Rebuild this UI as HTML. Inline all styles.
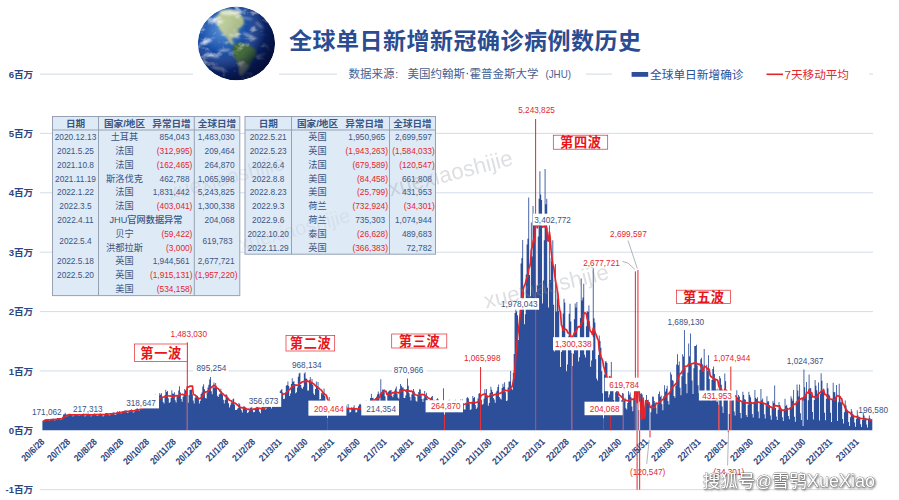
<!DOCTYPE html>
<html><head><meta charset="utf-8"><title>chart</title>
<style>html,body{margin:0;padding:0;background:#fff}svg{display:block}</style></head>
<body><svg width="899" height="500" viewBox="0 0 899 500" font-family="Liberation Sans, sans-serif">
<defs>
<radialGradient id="gl" cx="0.36" cy="0.34" r="0.75"><stop offset="0" stop-color="#3a80d2"/><stop offset="0.35" stop-color="#1a55b2"/><stop offset="0.7" stop-color="#0e3086"/><stop offset="1" stop-color="#06164e"/></radialGradient>
<radialGradient id="gs" cx="0.30" cy="0.30" r="0.82"><stop offset="0" stop-color="#fff" stop-opacity="0.18"/><stop offset="0.4" stop-color="#fff" stop-opacity="0"/><stop offset="0.7" stop-color="#02103c" stop-opacity="0.35"/><stop offset="1" stop-color="#02103c" stop-opacity="0.8"/></radialGradient>
<linearGradient id="gd" x1="0.35" y1="0.2" x2="1" y2="0.75"><stop offset="0" stop-color="#030a30" stop-opacity="0"/><stop offset="0.55" stop-color="#030a30" stop-opacity="0.18"/><stop offset="1" stop-color="#030a30" stop-opacity="0.62"/></linearGradient>
<clipPath id="gc"><ellipse cx="236.4" cy="43.4" rx="38.6" ry="36.8"/></clipPath>
<filter id="bl" x="-20%" y="-20%" width="140%" height="140%"><feGaussianBlur stdDeviation="1.1"/></filter>
<filter id="bl2" x="-30%" y="-30%" width="160%" height="160%"><feGaussianBlur stdDeviation="1.0"/></filter>
<filter id="cl" x="0" y="0" width="100%" height="100%"><feTurbulence type="fractalNoise" baseFrequency="0.09 0.12" numOctaves="4" seed="11"/><feColorMatrix type="matrix" values="0 0 0 0 1  0 0 0 0 1  0 0 0 0 1  2.2 0 0 0 -1.2"/></filter>
<filter id="ws" x="-5%" y="-20%" width="110%" height="150%"><feDropShadow dx="1" dy="1" stdDeviation="0.8" flood-color="#000" flood-opacity="0.6"/></filter></defs>
<rect width="899" height="500" fill="#fff"/>
<line x1="40" y1="489.7" x2="873" y2="489.7" stroke="#cdd8e6" stroke-width="0.9"/>
<line x1="40" y1="370.9" x2="873" y2="370.9" stroke="#cdd8e6" stroke-width="0.9"/>
<line x1="40" y1="311.6" x2="873" y2="311.6" stroke="#cdd8e6" stroke-width="0.9"/>
<line x1="40" y1="252.2" x2="873" y2="252.2" stroke="#cdd8e6" stroke-width="0.9"/>
<line x1="40" y1="192.8" x2="873" y2="192.8" stroke="#cdd8e6" stroke-width="0.9"/>
<line x1="40" y1="133.4" x2="873" y2="133.4" stroke="#cdd8e6" stroke-width="0.9"/>
<line x1="40" y1="74.1" x2="873" y2="74.1" stroke="#cdd8e6" stroke-width="0.9"/>
<path d="M42.40 430.3V421.1h0.860V430.3zM43.26 430.3V420.9h0.860V430.3zM44.12 430.3V419.7h0.860V430.3zM44.98 430.3V419.6h0.860V430.3zM45.84 430.3V419.2h0.860V430.3zM46.70 430.3V419.1h0.860V430.3zM47.56 430.3V419.8h0.860V430.3zM48.42 430.3V420.6h0.860V430.3zM49.28 430.3V420.6h0.860V430.3zM50.14 430.3V419.5h0.860V430.3zM51.00 430.3V419.2h0.860V430.3zM51.86 430.3V419.1h0.860V430.3zM52.72 430.3V418.6h0.860V430.3zM53.58 430.3V418.8h0.860V430.3zM54.44 430.3V420.4h0.860V430.3zM55.30 430.3V420.1h0.860V430.3zM56.16 430.3V418.9h0.860V430.3zM57.02 430.3V418.1h0.860V430.3zM57.88 430.3V418.1h0.860V430.3zM58.74 430.3V418.1h0.860V430.3zM59.60 430.3V418.2h0.860V430.3zM60.46 430.3V420.0h0.860V430.3zM61.32 430.3V419.2h0.860V430.3zM62.18 430.3V416.8h0.860V430.3zM63.04 430.3V414.5h0.860V430.3zM63.90 430.3V414.3h0.860V430.3zM64.76 430.3V412.7h0.860V430.3zM65.62 430.3V414.3h0.860V430.3zM66.48 430.3V416.6h0.860V430.3zM67.34 430.3V415.9h0.860V430.3zM68.20 430.3V414.6h0.860V430.3zM69.06 430.3V414.2h0.860V430.3zM69.92 430.3V413.9h0.860V430.3zM70.78 430.3V414.2h0.860V430.3zM71.64 430.3V415.0h0.860V430.3zM72.50 430.3V416.5h0.860V430.3zM73.36 430.3V415.8h0.860V430.3zM74.22 430.3V414.8h0.860V430.3zM75.08 430.3V414.3h0.860V430.3zM75.94 430.3V413.9h0.860V430.3zM76.80 430.3V413.9h0.860V430.3zM77.66 430.3V414.8h0.860V430.3zM78.52 430.3V416.1h0.860V430.3zM79.38 430.3V415.8h0.860V430.3zM80.24 430.3V415.0h0.860V430.3zM81.10 430.3V414.1h0.860V430.3zM81.96 430.3V413.9h0.860V430.3zM82.82 430.3V413.4h0.860V430.3zM83.68 430.3V414.4h0.860V430.3zM84.54 430.3V416.5h0.860V430.3zM85.40 430.3V415.6h0.860V430.3zM86.26 430.3V415.1h0.860V430.3zM87.12 430.3V414.2h0.860V430.3zM87.98 430.3V413.7h0.860V430.3zM88.84 430.3V414.1h0.860V430.3zM89.70 430.3V414.6h0.860V430.3zM90.56 430.3V416.6h0.860V430.3zM91.42 430.3V415.8h0.860V430.3zM92.28 430.3V414.4h0.860V430.3zM93.14 430.3V414.0h0.860V430.3zM94.00 430.3V413.5h0.860V430.3zM94.86 430.3V413.9h0.860V430.3zM95.72 430.3V414.3h0.860V430.3zM96.58 430.3V416.1h0.860V430.3zM97.44 430.3V415.8h0.860V430.3zM98.30 430.3V414.7h0.860V430.3zM99.16 430.3V413.7h0.860V430.3zM100.02 430.3V413.4h0.860V430.3zM100.88 430.3V413.7h0.860V430.3zM101.74 430.3V414.3h0.860V430.3zM102.60 430.3V416.5h0.860V430.3zM103.46 430.3V415.5h0.860V430.3zM104.32 430.3V414.2h0.860V430.3zM105.18 430.3V413.0h0.860V430.3zM106.04 430.3V412.9h0.860V430.3zM106.90 430.3V413.2h0.860V430.3zM107.76 430.3V413.8h0.860V430.3zM108.62 430.3V415.2h0.860V430.3zM109.48 430.3V415.3h0.860V430.3zM110.34 430.3V413.5h0.860V430.3zM111.20 430.3V413.0h0.860V430.3zM112.06 430.3V412.7h0.860V430.3zM112.92 430.3V412.5h0.860V430.3zM113.78 430.3V412.5h0.860V430.3zM114.64 430.3V414.9h0.860V430.3zM115.50 430.3V414.4h0.860V430.3zM116.36 430.3V412.7h0.860V430.3zM117.22 430.3V411.3h0.860V430.3zM118.08 430.3V411.9h0.860V430.3zM118.94 430.3V411.2h0.860V430.3zM119.80 430.3V411.8h0.860V430.3zM120.66 430.3V413.4h0.860V430.3zM121.52 430.3V413.0h0.860V430.3zM122.38 430.3V411.3h0.860V430.3zM123.24 430.3V411.1h0.860V430.3zM124.10 430.3V410.6h0.860V430.3zM124.96 430.3V410.4h0.860V430.3zM125.82 430.3V410.6h0.860V430.3zM126.68 430.3V412.5h0.860V430.3zM127.54 430.3V412.9h0.860V430.3zM128.40 430.3V411.2h0.860V430.3zM129.26 430.3V410.2h0.860V430.3zM130.12 430.3V409.9h0.860V430.3zM130.98 430.3V409.3h0.860V430.3zM131.84 430.3V410.0h0.860V430.3zM132.70 430.3V412.5h0.860V430.3zM133.56 430.3V412.3h0.860V430.3zM134.42 430.3V410.1h0.860V430.3zM135.28 430.3V409.2h0.860V430.3zM136.14 430.3V408.6h0.860V430.3zM137.00 430.3V407.7h0.860V430.3zM137.86 430.3V408.7h0.860V430.3zM138.72 430.3V410.9h0.860V430.3zM139.58 430.3V409.9h0.860V430.3zM140.44 430.3V407.7h0.860V430.3zM141.30 430.3V407.2h0.860V430.3zM142.16 430.3V405.3h0.860V430.3zM143.02 430.3V404.8h0.860V430.3zM143.88 430.3V405.5h0.860V430.3zM144.74 430.3V407.9h0.860V430.3zM145.60 430.3V407.6h0.860V430.3zM146.46 430.3V405.2h0.860V430.3zM147.32 430.3V404.1h0.860V430.3zM148.18 430.3V402.1h0.860V430.3zM149.04 430.3V401.9h0.860V430.3zM149.90 430.3V402.4h0.860V430.3zM150.76 430.3V404.5h0.860V430.3zM151.62 430.3V403.3h0.860V430.3zM152.48 430.3V399.8h0.860V430.3zM153.34 430.3V398.3h0.860V430.3zM154.20 430.3V397.2h0.860V430.3zM155.06 430.3V394.8h0.860V430.3zM155.92 430.3V399.3h0.860V430.3zM156.78 430.3V402.5h0.860V430.3zM157.64 430.3V404.5h0.860V430.3zM158.50 430.3V395.4h0.860V430.3zM159.36 430.3V393.0h0.860V430.3zM160.22 430.3V394.7h0.860V430.3zM161.08 430.3V393.2h0.860V430.3zM161.94 430.3V397.1h0.860V430.3zM162.80 430.3V401.9h0.860V430.3zM163.66 430.3V403.5h0.860V430.3zM164.52 430.3V394.9h0.860V430.3zM165.38 430.3V389.8h0.860V430.3zM166.24 430.3V391.9h0.860V430.3zM167.10 430.3V391.0h0.860V430.3zM167.96 430.3V398.2h0.860V430.3zM168.82 430.3V402.9h0.860V430.3zM169.68 430.3V401.9h0.860V430.3zM170.54 430.3V397.9h0.860V430.3zM171.40 430.3V390.3h0.860V430.3zM172.26 430.3V393.4h0.860V430.3zM173.12 430.3V393.7h0.860V430.3zM173.98 430.3V392.3h0.860V430.3zM174.84 430.3V400.2h0.860V430.3zM175.70 430.3V402.6h0.860V430.3zM176.56 430.3V395.8h0.860V430.3zM177.42 430.3V395.3h0.860V430.3zM178.28 430.3V390.4h0.860V430.3zM179.14 430.3V386.3h0.860V430.3zM180.00 430.3V392.4h0.860V430.3zM180.86 430.3V399.0h0.860V430.3zM181.72 430.3V401.8h0.860V430.3zM182.58 430.3V396.8h0.860V430.3zM183.44 430.3V394.5h0.860V430.3zM184.30 430.3V389.1h0.860V430.3zM185.16 430.3V390.2h0.860V430.3zM186.02 430.3V393.7h0.860V430.3zM187.74 430.3V402.7h0.860V430.3zM188.60 430.3V395.1h0.860V430.3zM189.46 430.3V390.1h0.860V430.3zM190.32 430.3V389.7h0.860V430.3zM191.18 430.3V389.4h0.860V430.3zM192.04 430.3V394.5h0.860V430.3zM192.90 430.3V400.4h0.860V430.3zM193.76 430.3V403.5h0.860V430.3zM194.62 430.3V397.8h0.860V430.3zM195.48 430.3V395.3h0.860V430.3zM196.34 430.3V396.3h0.860V430.3zM197.20 430.3V395.8h0.860V430.3zM198.06 430.3V398.7h0.860V430.3zM198.92 430.3V403.5h0.860V430.3zM199.78 430.3V401.0h0.860V430.3zM200.64 430.3V394.0h0.860V430.3zM201.50 430.3V392.4h0.860V430.3zM202.36 430.3V386.4h0.860V430.3zM203.22 430.3V384.2h0.860V430.3zM204.08 430.3V389.2h0.860V430.3zM204.94 430.3V398.0h0.860V430.3zM205.80 430.3V398.4h0.860V430.3zM206.66 430.3V392.5h0.860V430.3zM207.52 430.3V387.4h0.860V430.3zM208.38 430.3V384.7h0.860V430.3zM209.24 430.3V379.4h0.860V430.3zM210.10 430.3V377.1h0.860V430.3zM210.96 430.3V391.3h0.860V430.3zM211.82 430.3V394.2h0.860V430.3zM212.68 430.3V387.6h0.860V430.3zM213.54 430.3V382.4h0.860V430.3zM214.40 430.3V387.5h0.860V430.3zM215.26 430.3V382.9h0.860V430.3zM216.12 430.3V387.8h0.860V430.3zM216.98 430.3V395.7h0.860V430.3zM217.84 430.3V397.1h0.860V430.3zM218.70 430.3V394.6h0.860V430.3zM219.56 430.3V393.6h0.860V430.3zM220.42 430.3V388.8h0.860V430.3zM221.28 430.3V392.1h0.860V430.3zM222.14 430.3V394.6h0.860V430.3zM223.00 430.3V399.7h0.860V430.3zM223.86 430.3V403.5h0.860V430.3zM224.72 430.3V400.0h0.860V430.3zM225.58 430.3V394.0h0.860V430.3zM226.44 430.3V394.9h0.860V430.3zM227.30 430.3V398.4h0.860V430.3zM228.16 430.3V403.2h0.860V430.3zM229.02 430.3V407.6h0.860V430.3zM229.88 430.3V405.2h0.860V430.3zM230.74 430.3V402.4h0.860V430.3zM231.60 430.3V403.3h0.860V430.3zM232.46 430.3V399.3h0.860V430.3zM233.32 430.3V398.6h0.860V430.3zM234.18 430.3V404.6h0.860V430.3zM235.04 430.3V410.1h0.860V430.3zM235.90 430.3V410.1h0.860V430.3zM236.76 430.3V409.2h0.860V430.3zM237.62 430.3V407.9h0.860V430.3zM238.48 430.3V403.0h0.860V430.3zM239.34 430.3V404.2h0.860V430.3zM240.20 430.3V408.2h0.860V430.3zM241.06 430.3V410.3h0.860V430.3zM241.92 430.3V412.4h0.860V430.3zM242.78 430.3V408.2h0.860V430.3zM243.64 430.3V406.1h0.860V430.3zM244.50 430.3V407.9h0.860V430.3zM245.36 430.3V407.3h0.860V430.3zM246.22 430.3V409.9h0.860V430.3zM247.08 430.3V413.1h0.860V430.3zM247.94 430.3V412.2h0.860V430.3zM248.80 430.3V410.6h0.860V430.3zM249.66 430.3V407.6h0.860V430.3zM250.52 430.3V408.0h0.860V430.3zM251.38 430.3V404.1h0.860V430.3zM252.24 430.3V409.5h0.860V430.3zM253.10 430.3V412.2h0.860V430.3zM253.96 430.3V412.0h0.860V430.3zM254.82 430.3V407.9h0.860V430.3zM255.68 430.3V407.4h0.860V430.3zM256.54 430.3V404.3h0.860V430.3zM257.40 430.3V405.7h0.860V430.3zM258.26 430.3V408.5h0.860V430.3zM259.12 430.3V411.7h0.860V430.3zM259.98 430.3V413.3h0.860V430.3zM260.84 430.3V408.7h0.860V430.3zM261.70 430.3V406.9h0.860V430.3zM262.56 430.3V406.5h0.860V430.3zM263.42 430.3V401.7h0.860V430.3zM264.28 430.3V407.5h0.860V430.3zM265.14 430.3V409.5h0.860V430.3zM266.00 430.3V408.4h0.860V430.3zM266.86 430.3V405.4h0.860V430.3zM267.72 430.3V403.2h0.860V430.3zM268.58 430.3V400.8h0.860V430.3zM269.44 430.3V399.6h0.860V430.3zM270.30 430.3V401.8h0.860V430.3zM271.16 430.3V408.6h0.860V430.3zM272.02 430.3V406.6h0.860V430.3zM272.88 430.3V403.6h0.860V430.3zM273.74 430.3V399.5h0.860V430.3zM274.60 430.3V394.4h0.860V430.3zM275.46 430.3V394.4h0.860V430.3zM276.32 430.3V397.6h0.860V430.3zM277.18 430.3V400.7h0.860V430.3zM278.04 430.3V399.5h0.860V430.3zM278.90 430.3V396.7h0.860V430.3zM279.76 430.3V391.3h0.860V430.3zM280.62 430.3V390.1h0.860V430.3zM281.48 430.3V388.9h0.860V430.3zM282.34 430.3V392.4h0.860V430.3zM283.20 430.3V399.1h0.860V430.3zM284.06 430.3V398.7h0.860V430.3zM284.92 430.3V393.8h0.860V430.3zM285.78 430.3V385.8h0.860V430.3zM286.64 430.3V385.0h0.860V430.3zM287.50 430.3V381.5h0.860V430.3zM288.36 430.3V385.9h0.860V430.3zM289.22 430.3V396.0h0.860V430.3zM290.08 430.3V393.6h0.860V430.3zM290.94 430.3V383.9h0.860V430.3zM291.80 430.3V378.3h0.860V430.3zM292.66 430.3V382.0h0.860V430.3zM293.52 430.3V380.9h0.860V430.3zM294.38 430.3V384.0h0.860V430.3zM295.24 430.3V393.3h0.860V430.3zM296.10 430.3V392.3h0.860V430.3zM296.96 430.3V387.5h0.860V430.3zM297.82 430.3V376.8h0.860V430.3zM298.68 430.3V373.4h0.860V430.3zM299.54 430.3V372.8h0.860V430.3zM300.40 430.3V385.1h0.860V430.3zM301.26 430.3V387.8h0.860V430.3zM302.12 430.3V388.8h0.860V430.3zM302.98 430.3V386.8h0.860V430.3zM303.84 430.3V373.6h0.860V430.3zM304.70 430.3V372.2h0.860V430.3zM305.56 430.3V378.6h0.860V430.3zM306.42 430.3V378.7h0.860V430.3zM307.28 430.3V390.6h0.860V430.3zM308.14 430.3V390.6h0.860V430.3zM309.00 430.3V380.8h0.860V430.3zM309.86 430.3V377.1h0.860V430.3zM310.72 430.3V381.9h0.860V430.3zM311.58 430.3V378.9h0.860V430.3zM312.44 430.3V385.0h0.860V430.3zM313.30 430.3V393.4h0.860V430.3zM314.16 430.3V395.1h0.860V430.3zM315.02 430.3V389.1h0.860V430.3zM315.88 430.3V381.5h0.860V430.3zM316.74 430.3V386.3h0.860V430.3zM317.60 430.3V381.9h0.860V430.3zM318.46 430.3V389.9h0.860V430.3zM319.32 430.3V399.5h0.860V430.3zM320.18 430.3V399.0h0.860V430.3zM321.04 430.3V393.3h0.860V430.3zM321.90 430.3V391.2h0.860V430.3zM322.76 430.3V394.2h0.860V430.3zM323.62 430.3V388.5h0.860V430.3zM324.48 430.3V395.9h0.860V430.3zM325.34 430.3V400.9h0.860V430.3zM326.20 430.3V406.2h0.860V430.3zM327.92 430.3V401.4h0.860V430.3zM328.78 430.3V397.0h0.860V430.3zM329.64 430.3V400.4h0.860V430.3zM330.50 430.3V405.6h0.860V430.3zM331.36 430.3V408.9h0.860V430.3zM332.22 430.3V407.9h0.860V430.3zM333.08 430.3V405.1h0.860V430.3zM333.94 430.3V405.2h0.860V430.3zM334.80 430.3V405.1h0.860V430.3zM335.66 430.3V401.2h0.860V430.3zM336.52 430.3V406.5h0.860V430.3zM337.38 430.3V409.9h0.860V430.3zM338.24 430.3V412.5h0.860V430.3zM339.10 430.3V410.1h0.860V430.3zM339.96 430.3V405.4h0.860V430.3zM340.82 430.3V405.9h0.860V430.3zM341.68 430.3V407.4h0.860V430.3zM342.54 430.3V406.9h0.860V430.3zM343.40 430.3V411.4h0.860V430.3zM344.26 430.3V411.1h0.860V430.3zM345.12 430.3V410.9h0.860V430.3zM345.98 430.3V405.4h0.860V430.3zM346.84 430.3V407.9h0.860V430.3zM347.70 430.3V404.0h0.860V430.3zM348.56 430.3V408.8h0.860V430.3zM349.42 430.3V412.4h0.860V430.3zM350.28 430.3V411.9h0.860V430.3zM351.14 430.3V407.7h0.860V430.3zM352.00 430.3V407.9h0.860V430.3zM352.86 430.3V407.6h0.860V430.3zM353.72 430.3V405.2h0.860V430.3zM354.58 430.3V409.1h0.860V430.3zM355.44 430.3V412.5h0.860V430.3zM356.30 430.3V412.3h0.860V430.3zM357.16 430.3V409.6h0.860V430.3zM358.02 430.3V406.3h0.860V430.3zM358.88 430.3V404.5h0.860V430.3zM359.74 430.3V403.8h0.860V430.3zM360.60 430.3V404.7h0.860V430.3zM361.46 430.3V410.1h0.860V430.3zM362.32 430.3V409.2h0.860V430.3zM363.18 430.3V406.8h0.860V430.3zM364.04 430.3V402.7h0.860V430.3zM364.90 430.3V402.8h0.860V430.3zM365.76 430.3V400.4h0.860V430.3zM366.62 430.3V404.7h0.860V430.3zM367.48 430.3V404.9h0.860V430.3zM368.34 430.3V405.5h0.860V430.3zM369.20 430.3V403.1h0.860V430.3zM370.06 430.3V398.1h0.860V430.3zM370.92 430.3V393.8h0.860V430.3zM371.78 430.3V398.0h0.860V430.3zM372.64 430.3V397.8h0.860V430.3zM373.50 430.3V404.3h0.860V430.3zM374.36 430.3V404.1h0.860V430.3zM375.22 430.3V397.9h0.860V430.3zM376.08 430.3V396.7h0.860V430.3zM376.94 430.3V394.4h0.860V430.3zM377.80 430.3V391.6h0.860V430.3zM378.66 430.3V393.7h0.860V430.3zM379.52 430.3V401.8h0.860V430.3zM380.38 430.3V379.2h0.860V430.3zM381.24 430.3V393.8h0.860V430.3zM382.10 430.3V389.6h0.860V430.3zM382.96 430.3V389.7h0.860V430.3zM383.82 430.3V389.3h0.860V430.3zM384.68 430.3V396.2h0.860V430.3zM385.54 430.3V400.8h0.860V430.3zM386.40 430.3V401.3h0.860V430.3zM387.26 430.3V392.4h0.860V430.3zM388.12 430.3V391.5h0.860V430.3zM388.98 430.3V390.6h0.860V430.3zM389.84 430.3V390.4h0.860V430.3zM390.70 430.3V390.0h0.860V430.3zM391.56 430.3V395.8h0.860V430.3zM392.42 430.3V397.2h0.860V430.3zM393.28 430.3V394.6h0.860V430.3zM394.14 430.3V390.7h0.860V430.3zM395.00 430.3V388.7h0.860V430.3zM395.86 430.3V386.4h0.860V430.3zM396.72 430.3V393.8h0.860V430.3zM397.58 430.3V397.4h0.860V430.3zM398.44 430.3V398.8h0.860V430.3zM399.30 430.3V389.0h0.860V430.3zM400.16 430.3V384.1h0.860V430.3zM401.02 430.3V385.7h0.860V430.3zM401.88 430.3V387.4h0.860V430.3zM402.74 430.3V387.6h0.860V430.3zM403.60 430.3V398.0h0.860V430.3zM404.46 430.3V398.1h0.860V430.3zM405.32 430.3V395.6h0.860V430.3zM406.18 430.3V388.9h0.860V430.3zM407.04 430.3V378.6h0.860V430.3zM407.90 430.3V385.7h0.860V430.3zM408.76 430.3V393.3h0.860V430.3zM409.62 430.3V397.1h0.860V430.3zM410.48 430.3V400.5h0.860V430.3zM411.34 430.3V394.5h0.860V430.3zM412.20 430.3V392.2h0.860V430.3zM413.06 430.3V389.0h0.860V430.3zM413.92 430.3V391.5h0.860V430.3zM414.78 430.3V396.8h0.860V430.3zM415.64 430.3V400.7h0.860V430.3zM416.50 430.3V401.7h0.860V430.3zM417.36 430.3V395.3h0.860V430.3zM418.22 430.3V391.9h0.860V430.3zM419.08 430.3V389.2h0.860V430.3zM419.94 430.3V389.4h0.860V430.3zM420.80 430.3V394.3h0.860V430.3zM421.66 430.3V399.0h0.860V430.3zM422.52 430.3V402.1h0.860V430.3zM423.38 430.3V398.4h0.860V430.3zM424.24 430.3V391.1h0.860V430.3zM425.10 430.3V396.2h0.860V430.3zM425.96 430.3V392.7h0.860V430.3zM426.82 430.3V398.7h0.860V430.3zM427.68 430.3V406.9h0.860V430.3zM428.54 430.3V404.0h0.860V430.3zM429.40 430.3V399.9h0.860V430.3zM430.26 430.3V398.2h0.860V430.3zM431.12 430.3V396.7h0.860V430.3zM431.98 430.3V396.0h0.860V430.3zM432.84 430.3V403.9h0.860V430.3zM433.70 430.3V406.4h0.860V430.3zM434.56 430.3V407.0h0.860V430.3zM435.42 430.3V402.0h0.860V430.3zM436.28 430.3V399.3h0.860V430.3zM437.14 430.3V398.3h0.860V430.3zM438.00 430.3V399.5h0.860V430.3zM438.86 430.3V403.1h0.860V430.3zM439.72 430.3V408.5h0.860V430.3zM440.58 430.3V408.3h0.860V430.3zM441.44 430.3V404.6h0.860V430.3zM442.30 430.3V402.5h0.860V430.3zM443.16 430.3V388.2h0.860V430.3zM444.88 430.3V407.3h0.860V430.3zM445.74 430.3V408.6h0.860V430.3zM446.60 430.3V409.4h0.860V430.3zM447.46 430.3V403.5h0.860V430.3zM448.32 430.3V400.2h0.860V430.3zM449.18 430.3V399.7h0.860V430.3zM450.04 430.3V401.5h0.860V430.3zM450.90 430.3V408.2h0.860V430.3zM451.76 430.3V409.0h0.860V430.3zM452.62 430.3V408.9h0.860V430.3zM453.48 430.3V404.2h0.860V430.3zM454.34 430.3V400.6h0.860V430.3zM455.20 430.3V399.7h0.860V430.3zM456.06 430.3V403.6h0.860V430.3zM456.92 430.3V404.9h0.860V430.3zM457.78 430.3V410.9h0.860V430.3zM458.64 430.3V411.3h0.860V430.3zM459.50 430.3V405.2h0.860V430.3zM460.36 430.3V399.5h0.860V430.3zM461.22 430.3V402.0h0.860V430.3zM462.08 430.3V399.6h0.860V430.3zM462.94 430.3V403.3h0.860V430.3zM463.80 430.3V409.4h0.860V430.3zM464.66 430.3V409.4h0.860V430.3zM465.52 430.3V403.0h0.860V430.3zM466.38 430.3V398.1h0.860V430.3zM467.24 430.3V397.1h0.860V430.3zM468.10 430.3V398.6h0.860V430.3zM468.96 430.3V403.3h0.860V430.3zM469.82 430.3V409.9h0.860V430.3zM470.68 430.3V409.2h0.860V430.3zM471.54 430.3V402.7h0.860V430.3zM472.40 430.3V396.0h0.860V430.3zM473.26 430.3V398.1h0.860V430.3zM474.12 430.3V397.1h0.860V430.3zM474.98 430.3V405.0h0.860V430.3zM475.84 430.3V408.9h0.860V430.3zM476.70 430.3V407.5h0.860V430.3zM477.56 430.3V398.6h0.860V430.3zM478.42 430.3V393.8h0.860V430.3zM479.28 430.3V393.0h0.860V430.3zM481.00 430.3V399.7h0.860V430.3zM481.86 430.3V404.7h0.860V430.3zM482.72 430.3V404.0h0.860V430.3zM483.58 430.3V398.7h0.860V430.3zM484.44 430.3V389.2h0.860V430.3zM485.30 430.3V393.6h0.860V430.3zM486.16 430.3V389.1h0.860V430.3zM487.02 430.3V395.6h0.860V430.3zM487.88 430.3V405.7h0.860V430.3zM488.74 430.3V403.0h0.860V430.3zM489.60 430.3V392.9h0.860V430.3zM490.46 430.3V386.7h0.860V430.3zM491.32 430.3V389.8h0.860V430.3zM492.18 430.3V391.9h0.860V430.3zM493.04 430.3V398.1h0.860V430.3zM493.90 430.3V399.6h0.860V430.3zM494.76 430.3V402.8h0.860V430.3zM495.62 430.3V392.5h0.860V430.3zM496.48 430.3V390.7h0.860V430.3zM497.34 430.3V387.1h0.860V430.3zM498.20 430.3V384.6h0.860V430.3zM499.06 430.3V396.9h0.860V430.3zM499.92 430.3V398.5h0.860V430.3zM500.78 430.3V399.6h0.860V430.3zM501.64 430.3V388.1h0.860V430.3zM502.50 430.3V383.7h0.860V430.3zM503.36 430.3V386.8h0.860V430.3zM504.22 430.3V382.2h0.860V430.3zM505.08 430.3V392.3h0.860V430.3zM505.94 430.3V401.1h0.860V430.3zM506.80 430.3V400.4h0.860V430.3zM507.66 430.3V387.6h0.860V430.3zM508.52 430.3V381.5h0.860V430.3zM509.38 430.3V381.5h0.860V430.3zM510.24 430.3V370.9h0.860V430.3zM511.10 430.3V388.4h0.860V430.3zM511.96 430.3V389.7h0.860V430.3zM512.82 430.3V373.0h0.860V430.3zM513.68 430.3V354.0h0.860V430.3zM514.54 430.3V313.1h0.860V430.3zM515.40 430.3V300.9h0.860V430.3zM516.26 430.3V311.5h0.860V430.3zM517.12 430.3V315.3h0.860V430.3zM517.98 430.3V340.0h0.860V430.3zM518.84 430.3V325.5h0.860V430.3zM519.70 430.3V299.4h0.860V430.3zM520.56 430.3V263.4h0.860V430.3zM521.42 430.3V257.9h0.860V430.3zM522.28 430.3V239.9h0.860V430.3zM523.14 430.3V288.2h0.860V430.3zM524.00 430.3V324.2h0.860V430.3zM524.86 430.3V314.2h0.860V430.3zM525.72 430.3V274.5h0.860V430.3zM526.58 430.3V244.5h0.860V430.3zM527.44 430.3V238.8h0.860V430.3zM528.30 430.3V197.6h0.860V430.3zM529.16 430.3V275.0h0.860V430.3zM530.02 430.3V296.3h0.860V430.3zM530.88 430.3V222.5h0.860V430.3zM531.74 430.3V256.4h0.860V430.3zM532.60 430.3V205.9h0.860V430.3zM533.46 430.3V218.1h0.860V430.3zM534.32 430.3V217.6h0.860V430.3zM536.04 430.3V291.9h0.860V430.3zM536.90 430.3V285.5h0.860V430.3zM537.76 430.3V236.5h0.860V430.3zM538.62 430.3V198.8h0.860V430.3zM539.48 430.3V171.3h0.860V430.3zM540.34 430.3V194.5h0.860V430.3zM541.20 430.3V199.9h0.860V430.3zM542.06 430.3V303.6h0.860V430.3zM542.92 430.3V280.5h0.860V430.3zM543.78 430.3V240.2h0.860V430.3zM544.64 430.3V169.1h0.860V430.3zM545.50 430.3V204.2h0.860V430.3zM546.36 430.3V198.8h0.860V430.3zM547.22 430.3V287.7h0.860V430.3zM548.08 430.3V307.6h0.860V430.3zM548.94 430.3V216.6h0.860V430.3zM549.80 430.3V279.9h0.860V430.3zM550.66 430.3V258.0h0.860V430.3zM551.52 430.3V261.3h0.860V430.3zM552.38 430.3V240.3h0.860V430.3zM553.24 430.3V304.8h0.860V430.3zM554.10 430.3V351.4h0.860V430.3zM554.96 430.3V264.1h0.860V430.3zM555.82 430.3V311.6h0.860V430.3zM556.68 430.3V289.0h0.860V430.3zM557.54 430.3V298.9h0.860V430.3zM558.40 430.3V311.1h0.860V430.3zM559.26 430.3V344.2h0.860V430.3zM560.12 430.3V367.1h0.860V430.3zM560.98 430.3V352.1h0.860V430.3zM561.84 430.3V325.7h0.860V430.3zM562.70 430.3V313.4h0.860V430.3zM563.56 430.3V298.7h0.860V430.3zM564.42 430.3V302.5h0.860V430.3zM565.28 430.3V345.4h0.860V430.3zM566.14 430.3V371.3h0.860V430.3zM567.00 430.3V364.6h0.860V430.3zM567.86 430.3V336.6h0.860V430.3zM568.72 430.3V313.8h0.860V430.3zM569.58 430.3V303.8h0.860V430.3zM570.44 430.3V321.4h0.860V430.3zM572.16 430.3V366.1h0.860V430.3zM573.02 430.3V353.8h0.860V430.3zM573.88 430.3V319.3h0.860V430.3zM574.74 430.3V303.6h0.860V430.3zM575.60 430.3V307.4h0.860V430.3zM576.46 430.3V302.1h0.860V430.3zM577.32 430.3V337.7h0.860V430.3zM578.18 430.3V361.6h0.860V430.3zM579.04 430.3V357.3h0.860V430.3zM579.90 430.3V318.1h0.860V430.3zM580.76 430.3V278.5h0.860V430.3zM581.62 430.3V300.6h0.860V430.3zM582.48 430.3V297.6h0.860V430.3zM583.34 430.3V283.7h0.860V430.3zM584.20 430.3V354.8h0.860V430.3zM585.06 430.3V357.4h0.860V430.3zM585.92 430.3V326.3h0.860V430.3zM586.78 430.3V311.1h0.860V430.3zM587.64 430.3V312.0h0.860V430.3zM588.50 430.3V305.6h0.860V430.3zM589.36 430.3V341.6h0.860V430.3zM590.22 430.3V366.7h0.860V430.3zM591.08 430.3V360.4h0.860V430.3zM591.94 430.3V344.1h0.860V430.3zM592.80 430.3V268.2h0.860V430.3zM593.66 430.3V318.2h0.860V430.3zM594.52 430.3V322.6h0.860V430.3zM595.38 430.3V359.2h0.860V430.3zM596.24 430.3V378.4h0.860V430.3zM597.10 430.3V380.5h0.860V430.3zM597.96 430.3V354.9h0.860V430.3zM598.82 430.3V335.6h0.860V430.3zM599.68 430.3V341.0h0.860V430.3zM600.54 430.3V347.8h0.860V430.3zM601.40 430.3V371.3h0.860V430.3zM602.26 430.3V393.2h0.860V430.3zM603.98 430.3V374.6h0.860V430.3zM604.84 430.3V361.4h0.860V430.3zM605.70 430.3V361.3h0.860V430.3zM606.56 430.3V363.0h0.860V430.3zM607.42 430.3V384.1h0.860V430.3zM608.28 430.3V397.5h0.860V430.3zM609.14 430.3V394.4h0.860V430.3zM610.00 430.3V382.2h0.860V430.3zM610.86 430.3V362.1h0.860V430.3zM611.72 430.3V379.2h0.860V430.3zM612.58 430.3V381.8h0.860V430.3zM613.44 430.3V399.9h0.860V430.3zM614.30 430.3V406.5h0.860V430.3zM615.16 430.3V392.2h0.860V430.3zM616.02 430.3V386.9h0.860V430.3zM616.88 430.3V387.4h0.860V430.3zM617.74 430.3V393.2h0.860V430.3zM618.60 430.3V397.1h0.860V430.3zM619.46 430.3V404.9h0.860V430.3zM620.32 430.3V409.4h0.860V430.3zM621.18 430.3V400.2h0.860V430.3zM622.04 430.3V393.1h0.860V430.3zM623.76 430.3V400.5h0.860V430.3zM624.62 430.3V397.7h0.860V430.3zM625.48 430.3V408.2h0.860V430.3zM626.34 430.3V409.6h0.860V430.3zM627.20 430.3V403.1h0.860V430.3zM628.06 430.3V391.0h0.860V430.3zM628.92 430.3V394.8h0.860V430.3zM629.78 430.3V392.6h0.860V430.3zM630.64 430.3V397.3h0.860V430.3zM631.50 430.3V406.4h0.860V430.3zM632.36 430.3V411.2h0.860V430.3zM633.22 430.3V398.7h0.860V430.3zM634.08 430.3V387.7h0.860V430.3zM635.80 430.3V396.9h0.860V430.3zM638.38 430.3V410.1h0.860V430.3zM640.10 430.3V393.7h0.860V430.3zM640.96 430.3V393.3h0.860V430.3zM641.82 430.3V394.6h0.860V430.3zM642.68 430.3V400.1h0.860V430.3zM643.54 430.3V406.2h0.860V430.3zM644.40 430.3V413.6h0.860V430.3zM645.26 430.3V403.2h0.860V430.3zM646.12 430.3V395.1h0.860V430.3zM646.98 430.3V399.9h0.860V430.3zM647.84 430.3V399.8h0.860V430.3zM648.70 430.3V402.6h0.860V430.3zM650.42 430.3V412.2h0.860V430.3zM651.28 430.3V404.8h0.860V430.3zM652.14 430.3V396.6h0.860V430.3zM653.00 430.3V396.8h0.860V430.3zM653.86 430.3V401.0h0.860V430.3zM654.72 430.3V403.4h0.860V430.3zM655.58 430.3V407.5h0.860V430.3zM656.44 430.3V413.7h0.860V430.3zM657.30 430.3V404.3h0.860V430.3zM658.16 430.3V393.9h0.860V430.3zM659.02 430.3V391.6h0.860V430.3zM659.88 430.3V396.7h0.860V430.3zM660.74 430.3V395.4h0.860V430.3zM661.60 430.3V404.3h0.860V430.3zM662.46 430.3V410.2h0.860V430.3zM663.32 430.3V396.3h0.860V430.3zM664.18 430.3V385.3h0.860V430.3zM665.04 430.3V391.6h0.860V430.3zM665.90 430.3V388.8h0.860V430.3zM666.76 430.3V385.7h0.860V430.3zM667.62 430.3V401.0h0.860V430.3zM668.48 430.3V404.4h0.860V430.3zM669.34 430.3V391.9h0.860V430.3zM670.20 430.3V372.3h0.860V430.3zM671.06 430.3V374.5h0.860V430.3zM671.92 430.3V380.0h0.860V430.3zM672.78 430.3V380.8h0.860V430.3zM673.64 430.3V395.9h0.860V430.3zM674.50 430.3V397.8h0.860V430.3zM675.36 430.3V385.7h0.860V430.3zM676.22 430.3V364.4h0.860V430.3zM677.08 430.3V354.3h0.860V430.3zM677.94 430.3V365.3h0.860V430.3zM678.80 430.3V361.4h0.860V430.3zM679.66 430.3V387.7h0.860V430.3zM680.52 430.3V395.2h0.860V430.3zM681.38 430.3V376.3h0.860V430.3zM682.24 430.3V354.3h0.860V430.3zM683.10 430.3V356.5h0.860V430.3zM683.96 430.3V330.0h0.860V430.3zM684.82 430.3V367.9h0.860V430.3zM685.68 430.3V384.1h0.860V430.3zM686.54 430.3V393.2h0.860V430.3zM687.40 430.3V372.5h0.860V430.3zM688.26 430.3V343.5h0.860V430.3zM689.12 430.3V356.3h0.860V430.3zM689.98 430.3V333.5h0.860V430.3zM690.84 430.3V365.1h0.860V430.3zM691.70 430.3V380.4h0.860V430.3zM692.56 430.3V394.0h0.860V430.3zM693.42 430.3V368.2h0.860V430.3zM694.28 430.3V346.0h0.860V430.3zM695.14 430.3V346.0h0.860V430.3zM696.00 430.3V344.8h0.860V430.3zM696.86 430.3V365.5h0.860V430.3zM697.72 430.3V385.3h0.860V430.3zM698.58 430.3V392.9h0.860V430.3zM699.44 430.3V369.8h0.860V430.3zM700.30 430.3V359.3h0.860V430.3zM701.16 430.3V357.7h0.860V430.3zM702.02 430.3V364.3h0.860V430.3zM702.88 430.3V369.0h0.860V430.3zM703.74 430.3V349.0h0.860V430.3zM704.60 430.3V395.8h0.860V430.3zM705.46 430.3V391.0h0.860V430.3zM706.32 430.3V364.8h0.860V430.3zM707.18 430.3V371.0h0.860V430.3zM708.04 430.3V355.3h0.860V430.3zM708.90 430.3V379.1h0.860V430.3zM709.76 430.3V390.5h0.860V430.3zM710.62 430.3V400.6h0.860V430.3zM711.48 430.3V380.0h0.860V430.3zM712.34 430.3V368.9h0.860V430.3zM713.20 430.3V366.4h0.860V430.3zM714.06 430.3V373.9h0.860V430.3zM714.92 430.3V378.2h0.860V430.3zM715.78 430.3V389.5h0.860V430.3zM716.64 430.3V402.1h0.860V430.3zM717.50 430.3V388.4h0.860V430.3zM719.22 430.3V375.9h0.860V430.3zM720.08 430.3V378.3h0.860V430.3zM720.94 430.3V384.7h0.860V430.3zM721.80 430.3V406.5h0.860V430.3zM722.66 430.3V413.1h0.860V430.3zM723.52 430.3V390.8h0.860V430.3zM724.38 430.3V373.4h0.860V430.3zM725.24 430.3V381.3h0.860V430.3zM726.10 430.3V391.7h0.860V430.3zM726.96 430.3V390.2h0.860V430.3zM728.68 430.3V414.1h0.860V430.3zM729.54 430.3V398.7h0.860V430.3zM731.26 430.3V390.6h0.860V430.3zM732.12 430.3V391.3h0.860V430.3zM732.98 430.3V398.4h0.860V430.3zM733.84 430.3V411.4h0.860V430.3zM734.70 430.3V415.5h0.860V430.3zM735.56 430.3V398.3h0.860V430.3zM736.42 430.3V390.2h0.860V430.3zM737.28 430.3V397.4h0.860V430.3zM738.14 430.3V395.0h0.860V430.3zM739.00 430.3V396.4h0.860V430.3zM739.86 430.3V413.0h0.860V430.3zM740.72 430.3V418.3h0.860V430.3zM741.58 430.3V400.7h0.860V430.3zM742.44 430.3V391.7h0.860V430.3zM743.30 430.3V395.1h0.860V430.3zM744.16 430.3V399.3h0.860V430.3zM745.02 430.3V399.7h0.860V430.3zM745.88 430.3V414.9h0.860V430.3zM746.74 430.3V417.1h0.860V430.3zM747.60 430.3V404.8h0.860V430.3zM748.46 430.3V391.7h0.860V430.3zM749.32 430.3V395.0h0.860V430.3zM750.18 430.3V397.2h0.860V430.3zM751.04 430.3V401.7h0.860V430.3zM751.90 430.3V413.9h0.860V430.3zM752.76 430.3V417.4h0.860V430.3zM753.62 430.3V402.0h0.860V430.3zM754.48 430.3V390.0h0.860V430.3zM755.34 430.3V397.8h0.860V430.3zM756.20 430.3V399.0h0.860V430.3zM757.06 430.3V397.2h0.860V430.3zM757.92 430.3V411.4h0.860V430.3zM758.78 430.3V418.2h0.860V430.3zM759.64 430.3V402.4h0.860V430.3zM760.50 430.3V389.0h0.860V430.3zM761.36 430.3V400.3h0.860V430.3zM762.22 430.3V398.4h0.860V430.3zM763.08 430.3V403.7h0.860V430.3zM763.94 430.3V414.2h0.860V430.3zM764.80 430.3V418.4h0.860V430.3zM765.66 430.3V405.0h0.860V430.3zM766.52 430.3V396.3h0.860V430.3zM767.38 430.3V401.5h0.860V430.3zM768.24 430.3V401.2h0.860V430.3zM769.10 430.3V404.9h0.860V430.3zM769.96 430.3V415.6h0.860V430.3zM770.82 430.3V419.7h0.860V430.3zM771.68 430.3V408.0h0.860V430.3zM772.54 430.3V400.8h0.860V430.3zM773.40 430.3V402.9h0.860V430.3zM774.26 430.3V385.5h0.860V430.3zM775.12 430.3V407.9h0.860V430.3zM775.98 430.3V416.6h0.860V430.3zM776.84 430.3V420.0h0.860V430.3zM777.70 430.3V409.9h0.860V430.3zM778.56 430.3V402.1h0.860V430.3zM779.42 430.3V405.0h0.860V430.3zM780.28 430.3V408.1h0.860V430.3zM781.14 430.3V408.6h0.860V430.3zM782.00 430.3V417.3h0.860V430.3zM782.86 430.3V421.0h0.860V430.3zM783.72 430.3V409.0h0.860V430.3zM784.58 430.3V398.8h0.860V430.3zM785.44 430.3V405.9h0.860V430.3zM786.30 430.3V404.7h0.860V430.3zM787.16 430.3V407.8h0.860V430.3zM788.02 430.3V415.9h0.860V430.3zM788.88 430.3V419.2h0.860V430.3zM789.74 430.3V407.1h0.860V430.3zM790.60 430.3V396.3h0.860V430.3zM791.46 430.3V398.5h0.860V430.3zM792.32 430.3V400.8h0.860V430.3zM793.18 430.3V389.9h0.860V430.3zM794.04 430.3V416.7h0.860V430.3zM794.90 430.3V421.7h0.860V430.3zM795.76 430.3V401.6h0.860V430.3zM796.62 430.3V384.5h0.860V430.3zM797.48 430.3V390.4h0.860V430.3zM798.34 430.3V396.6h0.860V430.3zM799.20 430.3V384.6h0.860V430.3zM800.06 430.3V413.2h0.860V430.3zM800.92 430.3V420.0h0.860V430.3zM801.78 430.3V397.6h0.860V430.3zM802.64 430.3V426.0h0.860V430.3zM803.50 430.3V369.5h0.860V430.3zM804.36 430.3V387.2h0.860V430.3zM805.22 430.3V394.5h0.860V430.3zM806.08 430.3V381.9h0.860V430.3zM806.94 430.3V419.7h0.860V430.3zM807.80 430.3V400.2h0.860V430.3zM808.66 430.3V374.5h0.860V430.3zM809.52 430.3V388.5h0.860V430.3zM810.38 430.3V388.0h0.860V430.3zM811.24 430.3V394.5h0.860V430.3zM812.10 430.3V412.1h0.860V430.3zM812.96 430.3V419.5h0.860V430.3zM813.82 430.3V400.0h0.860V430.3zM814.68 430.3V380.0h0.860V430.3zM815.54 430.3V385.8h0.860V430.3zM816.40 430.3V390.3h0.860V430.3zM817.26 430.3V393.7h0.860V430.3zM818.12 430.3V382.4h0.860V430.3zM818.98 430.3V420.4h0.860V430.3zM819.84 430.3V394.0h0.860V430.3zM820.70 430.3V373.2h0.860V430.3zM821.56 430.3V380.8h0.860V430.3zM822.42 430.3V390.7h0.860V430.3zM823.28 430.3V388.4h0.860V430.3zM824.14 430.3V412.8h0.860V430.3zM825.00 430.3V420.2h0.860V430.3zM825.86 430.3V398.7h0.860V430.3zM826.72 430.3V382.9h0.860V430.3zM827.58 430.3V388.3h0.860V430.3zM828.44 430.3V394.5h0.860V430.3zM829.30 430.3V395.8h0.860V430.3zM830.16 430.3V412.8h0.860V430.3zM831.02 430.3V422.0h0.860V430.3zM831.88 430.3V399.4h0.860V430.3zM832.74 430.3V382.8h0.860V430.3zM833.60 430.3V392.0h0.860V430.3zM834.46 430.3V392.3h0.860V430.3zM835.32 430.3V397.1h0.860V430.3zM836.18 430.3V385.0h0.860V430.3zM837.04 430.3V421.1h0.860V430.3zM837.90 430.3V402.2h0.860V430.3zM838.76 430.3V383.7h0.860V430.3zM839.62 430.3V395.9h0.860V430.3zM840.48 430.3V402.3h0.860V430.3zM841.34 430.3V402.2h0.860V430.3zM842.20 430.3V419.1h0.860V430.3zM843.06 430.3V423.6h0.860V430.3zM843.92 430.3V412.2h0.860V430.3zM844.78 430.3V400.4h0.860V430.3zM845.64 430.3V405.4h0.860V430.3zM846.50 430.3V409.9h0.860V430.3zM847.36 430.3V411.0h0.860V430.3zM848.22 430.3V421.9h0.860V430.3zM849.08 430.3V426.1h0.860V430.3zM849.94 430.3V417.2h0.860V430.3zM850.80 430.3V409.1h0.860V430.3zM851.66 430.3V411.5h0.860V430.3zM852.52 430.3V414.0h0.860V430.3zM853.38 430.3V415.0h0.860V430.3zM854.24 430.3V422.6h0.860V430.3zM855.10 430.3V426.7h0.860V430.3zM855.96 430.3V418.8h0.860V430.3zM856.82 430.3V410.3h0.860V430.3zM857.68 430.3V415.6h0.860V430.3zM858.54 430.3V417.0h0.860V430.3zM859.40 430.3V416.8h0.860V430.3zM860.26 430.3V424.2h0.860V430.3zM861.12 430.3V426.9h0.860V430.3zM861.98 430.3V419.9h0.860V430.3zM862.84 430.3V412.5h0.860V430.3zM863.70 430.3V415.6h0.860V430.3zM864.56 430.3V417.9h0.860V430.3zM865.42 430.3V417.7h0.860V430.3zM866.28 430.3V424.5h0.860V430.3zM867.14 430.3V427.4h0.860V430.3zM868.00 430.3V419.8h0.860V430.3zM868.86 430.3V415.5h0.860V430.3zM869.72 430.3V418.3h0.860V430.3zM870.58 430.3V419.5h0.860V430.3zM871.44 430.3V418.9h0.860V430.3z" fill="#2d4f9a"/>
<polyline points="42.8,421.1 43.7,421.0 44.5,420.6 45.4,420.3 46.3,420.1 47.1,419.9 48.0,419.9 48.9,419.9 49.7,419.8 50.6,419.8 51.4,419.7 52.3,419.7 53.1,419.6 54.0,419.5 54.9,419.5 55.7,419.4 56.6,419.3 57.4,419.1 58.3,419.0 59.2,418.9 60.0,418.8 60.9,418.8 61.8,418.6 62.6,418.4 63.5,417.8 64.3,417.3 65.2,416.5 66.0,416.0 66.9,415.5 67.8,415.0 68.6,414.7 69.5,414.7 70.3,414.6 71.2,414.8 72.1,414.9 72.9,414.9 73.8,414.9 74.7,414.9 75.5,415.0 76.4,414.9 77.2,414.9 78.1,414.9 78.9,414.8 79.8,414.8 80.7,414.8 81.5,414.8 82.4,414.8 83.2,414.7 84.1,414.7 85.0,414.7 85.8,414.7 86.7,414.7 87.5,414.7 88.4,414.7 89.3,414.8 90.1,414.8 91.0,414.8 91.8,414.9 92.7,414.8 93.6,414.7 94.4,414.7 95.3,414.7 96.2,414.7 97.0,414.6 97.9,414.6 98.7,414.6 99.6,414.6 100.4,414.6 101.3,414.5 102.2,414.5 103.0,414.6 103.9,414.5 104.8,414.5 105.6,414.4 106.5,414.3 107.3,414.2 108.2,414.1 109.1,414.0 109.9,413.9 110.8,413.8 111.6,413.8 112.5,413.8 113.3,413.7 114.2,413.5 115.1,413.5 115.9,413.4 116.8,413.2 117.7,413.0 118.5,412.9 119.4,412.7 120.2,412.6 121.1,412.4 121.9,412.2 122.8,412.0 123.7,412.0 124.5,411.8 125.4,411.7 126.2,411.5 127.1,411.3 128.0,411.3 128.8,411.3 129.7,411.2 130.6,411.1 131.4,410.9 132.3,410.9 133.1,410.9 134.0,410.8 134.8,410.6 135.7,410.5 136.6,410.3 137.4,410.0 138.3,409.9 139.2,409.6 140.0,409.3 140.9,409.0 141.7,408.7 142.6,408.2 143.4,407.8 144.3,407.3 145.2,406.9 146.0,406.6 146.9,406.2 147.8,405.8 148.6,405.3 149.5,404.9 150.3,404.4 151.2,404.0 152.0,403.3 152.9,402.6 153.8,401.7 154.6,401.0 155.5,400.0 156.3,399.6 157.2,399.3 158.1,399.5 158.9,398.9 159.8,398.1 160.7,397.8 161.5,397.5 162.4,397.2 163.2,397.1 164.1,397.0 164.9,396.9 165.8,396.4 166.7,396.0 167.5,395.7 168.4,395.9 169.2,396.0 170.1,395.8 171.0,396.2 171.8,396.3 172.7,396.5 173.6,396.9 174.4,396.1 175.3,395.7 176.1,395.8 177.0,395.5 177.8,396.2 178.7,395.8 179.6,394.7 180.4,394.7 181.3,394.5 182.2,394.4 183.0,394.6 183.9,394.5 184.7,394.3 185.6,394.8 186.5,395.0 187.3,386.9 188.2,387.1 189.0,386.8 189.9,386.2 190.8,386.2 191.6,386.1 192.5,386.2 193.3,394.5 194.2,394.7 195.1,395.0 195.9,395.8 196.8,396.7 197.6,397.7 198.5,398.3 199.3,398.7 200.2,398.3 201.1,397.8 201.9,397.4 202.8,396.0 203.7,394.3 204.5,392.9 205.4,392.1 206.2,391.8 207.1,391.6 208.0,390.9 208.8,390.6 209.7,389.9 210.5,388.2 211.4,387.3 212.2,386.7 213.1,386.0 214.0,385.2 214.8,385.7 215.7,386.1 216.6,387.7 217.4,388.3 218.3,388.7 219.1,389.7 220.0,391.3 220.8,391.5 221.7,392.8 222.6,393.8 223.4,394.3 224.3,395.3 225.2,396.0 226.0,396.1 226.9,397.0 227.7,397.9 228.6,399.1 229.4,400.2 230.3,400.5 231.2,400.8 232.0,402.1 232.9,402.8 233.8,402.8 234.6,403.0 235.5,403.3 236.3,404.0 237.2,405.0 238.1,405.7 238.9,406.2 239.8,407.0 240.6,407.5 241.5,407.6 242.3,407.9 243.2,407.7 244.1,407.5 244.9,408.2 245.8,408.6 246.7,408.9 247.5,409.3 248.4,409.2 249.2,409.6 250.1,409.8 250.9,409.8 251.8,409.4 252.7,409.3 253.5,409.2 254.4,409.1 255.2,408.8 256.1,408.7 257.0,408.2 257.8,408.4 258.7,408.3 259.6,408.2 260.4,408.4 261.3,408.5 262.1,408.4 263.0,408.8 263.8,408.2 264.7,408.0 265.6,407.7 266.4,407.0 267.3,406.6 268.1,406.0 269.0,405.2 269.9,404.9 270.7,404.1 271.6,404.0 272.4,403.7 273.3,403.5 274.2,402.9 275.0,402.0 275.9,401.3 276.8,400.7 277.6,399.5 278.5,398.5 279.3,397.5 280.2,396.4 281.1,395.8 281.9,395.0 282.8,394.2 283.6,394.0 284.5,393.9 285.3,393.5 286.2,392.7 287.1,392.0 287.9,390.9 288.8,390.0 289.6,389.5 290.5,388.8 291.4,387.4 292.2,386.3 293.1,385.9 293.9,385.8 294.8,385.5 295.7,385.1 296.5,385.0 297.4,385.5 298.2,385.3 299.1,384.0 300.0,382.9 300.8,383.1 301.7,382.3 302.5,381.8 303.4,381.7 304.3,381.2 305.1,381.0 306.0,381.9 306.8,380.9 307.7,381.3 308.6,381.6 309.4,380.7 310.3,381.2 311.1,382.6 312.0,382.6 312.9,383.5 313.7,383.9 314.6,384.6 315.4,385.8 316.3,386.4 317.2,387.1 318.0,387.5 318.9,388.2 319.8,389.1 320.6,389.6 321.5,390.2 322.3,391.6 323.2,392.7 324.0,393.7 324.9,394.5 325.8,394.7 326.6,395.7 327.5,399.2 328.3,400.7 329.2,401.1 330.1,402.8 330.9,404.2 331.8,405.3 332.6,405.6 333.5,403.7 334.4,404.3 335.2,405.4 336.1,405.6 336.9,405.7 337.8,405.8 338.7,406.5 339.5,407.2 340.4,407.2 341.2,407.4 342.1,408.2 343.0,408.3 343.8,408.5 344.7,408.3 345.5,408.4 346.4,408.4 347.3,408.7 348.1,408.2 349.0,408.5 349.8,408.6 350.7,408.8 351.6,408.3 352.4,408.7 353.3,408.6 354.1,408.8 355.0,408.8 355.9,408.8 356.7,408.9 357.6,409.2 358.4,408.9 359.3,408.5 360.2,408.3 361.0,407.7 361.9,407.3 362.8,406.9 363.6,406.5 364.5,406.0 365.3,405.7 366.2,405.2 367.0,405.2 367.9,404.5 368.8,404.0 369.6,403.4 370.5,402.8 371.3,401.5 372.2,401.1 373.1,400.2 373.9,400.1 374.8,399.9 375.6,399.1 376.5,398.9 377.4,399.0 378.2,398.1 379.1,397.5 379.9,397.2 380.8,393.6 381.7,393.0 382.5,392.0 383.4,391.4 384.2,391.0 385.1,391.4 386.0,391.2 386.8,394.4 387.7,394.2 388.5,394.4 389.4,394.6 390.3,394.7 391.1,393.8 392.0,393.1 392.8,392.5 393.7,392.9 394.6,392.7 395.4,392.5 396.3,391.9 397.1,392.4 398.0,392.7 398.9,392.9 399.7,392.1 400.6,391.2 401.4,390.8 402.3,390.9 403.2,390.0 404.0,390.1 404.9,390.0 405.8,391.0 406.6,391.6 407.5,390.6 408.3,390.4 409.2,391.2 410.0,391.0 410.9,391.4 411.8,391.2 412.6,391.7 413.5,393.2 414.3,394.0 415.2,394.5 416.1,395.0 416.9,395.2 417.8,395.3 418.6,395.3 419.5,395.3 420.4,395.0 421.2,394.6 422.1,394.4 422.9,394.5 423.8,394.9 424.7,394.8 425.5,395.8 426.4,396.3 427.2,396.9 428.1,398.0 429.0,398.3 429.8,398.5 430.7,399.5 431.5,399.6 432.4,400.1 433.3,400.8 434.1,400.7 435.0,401.2 435.8,401.5 436.7,401.6 437.6,401.8 438.4,402.3 439.3,402.2 440.1,402.5 441.0,402.7 441.9,403.1 442.7,403.5 443.6,402.1 444.4,404.3 445.3,404.9 446.2,404.9 447.0,405.0 447.9,404.9 448.7,404.5 449.6,406.2 450.5,404.3 451.3,404.4 452.2,404.5 453.0,404.4 453.9,404.5 454.8,404.6 455.6,404.6 456.5,404.9 457.3,404.4 458.2,404.7 459.1,405.0 459.9,405.2 460.8,405.0 461.6,405.3 462.5,404.8 463.4,404.5 464.2,404.3 465.1,404.0 465.9,403.7 466.8,403.6 467.7,402.9 468.5,402.7 469.4,402.7 470.2,402.8 471.1,402.8 472.0,402.7 472.8,402.4 473.7,402.5 474.5,402.3 475.4,402.6 476.3,402.4 477.1,402.2 478.0,401.6 478.8,401.3 479.7,400.6 480.6,396.3 481.4,395.5 482.3,394.9 483.1,394.4 484.0,394.4 484.9,393.8 485.7,393.8 486.6,397.0 487.4,396.4 488.3,396.5 489.2,396.4 490.0,395.6 490.9,395.2 491.7,394.7 492.6,395.1 493.5,395.4 494.3,394.6 495.2,394.5 496.0,394.5 496.9,395.0 497.8,394.6 498.6,393.6 499.5,393.4 500.3,393.3 501.2,392.8 502.1,392.2 502.9,391.2 503.8,391.2 504.6,390.8 505.5,390.2 506.4,390.5 507.2,390.7 508.1,390.6 508.9,390.3 509.8,389.5 510.7,387.9 511.5,387.3 512.4,385.7 513.2,381.8 514.1,377.0 515.0,367.2 515.8,355.7 516.7,347.2 517.5,336.8 518.4,329.7 519.3,322.9 520.1,315.1 521.0,308.0 521.9,301.9 522.7,291.6 523.6,287.8 524.4,285.5 525.3,283.9 526.1,280.3 527.0,277.6 527.9,274.9 528.7,268.9 529.6,267.0 530.5,263.0 531.3,249.9 532.2,247.3 533.0,241.8 533.9,238.8 534.8,241.7 535.6,219.4 536.5,218.7 537.3,227.8 538.2,224.9 539.0,223.9 539.9,217.2 540.8,213.9 541.6,225.5 542.5,227.2 543.4,226.4 544.2,227.0 545.1,222.7 545.9,227.4 546.8,228.0 547.6,240.6 548.5,241.1 549.4,232.0 550.2,237.7 551.1,250.4 552.0,258.5 552.8,264.5 553.7,266.9 554.5,273.2 555.4,280.0 556.2,284.5 557.1,288.9 558.0,294.3 558.8,304.4 559.7,310.0 560.5,312.3 561.4,324.9 562.3,326.9 563.1,330.3 564.0,330.3 564.9,329.1 565.7,329.3 566.6,329.9 567.4,331.7 568.3,333.2 569.1,333.3 570.0,334.0 570.9,336.7 571.7,337.8 572.6,337.1 573.4,335.5 574.3,333.1 575.2,331.6 576.0,332.1 576.9,329.3 577.8,327.1 578.6,326.5 579.5,327.0 580.3,326.8 581.2,323.2 582.0,322.3 582.9,321.6 583.8,313.9 584.6,312.9 585.5,313.0 586.4,314.1 587.2,318.8 588.1,320.4 588.9,321.6 589.8,329.8 590.6,331.5 591.5,332.0 592.4,334.5 593.2,328.4 594.1,329.3 594.9,331.7 595.8,334.2 596.7,335.9 597.5,338.7 598.4,340.3 599.2,349.9 600.1,353.2 601.0,356.8 601.8,358.5 602.7,360.6 603.5,366.0 604.4,368.8 605.3,372.5 606.1,375.4 607.0,377.6 607.9,379.4 608.7,380.0 609.6,376.6 610.4,377.7 611.3,377.8 612.1,380.3 613.0,383.0 613.9,385.3 614.7,386.6 615.6,386.3 616.4,386.9 617.3,390.5 618.2,392.5 619.0,394.7 619.9,395.4 620.8,395.9 621.6,397.0 622.5,397.9 623.3,398.8 624.2,399.8 625.0,399.9 625.9,400.4 626.8,400.4 627.6,400.8 628.5,400.5 629.4,400.7 630.2,399.6 631.1,399.5 631.9,399.2 632.8,399.5 633.6,398.9 634.5,398.4 635.4,380.7 636.2,381.4 637.1,402.7 637.9,383.2 638.8,383.0 639.7,401.0 640.5,401.8 641.4,419.3 642.2,418.9 643.1,398.0 644.0,417.5 644.8,418.0 645.7,400.7 646.5,400.9 647.4,401.8 648.3,402.6 649.1,402.9 650.0,407.4 650.9,407.2 651.7,407.4 652.6,407.6 653.4,407.2 654.3,407.4 655.1,407.5 656.0,403.2 656.9,403.4 657.7,403.3 658.6,403.0 659.4,402.2 660.3,401.6 661.2,400.4 662.0,400.0 662.9,399.5 663.8,398.4 664.6,397.1 665.5,397.1 666.3,396.0 667.2,394.6 668.0,394.1 668.9,393.3 669.8,392.7 670.6,390.8 671.5,388.4 672.4,387.1 673.2,386.4 674.1,385.7 674.9,384.7 675.8,383.9 676.6,382.7 677.5,379.8 678.4,377.7 679.2,375.0 680.1,373.8 680.9,373.4 681.8,372.1 682.7,370.6 683.5,370.9 684.4,365.9 685.2,366.8 686.1,366.3 687.0,366.1 687.8,365.5 688.7,364.0 689.5,364.0 690.4,364.5 691.3,364.0 692.1,363.5 693.0,363.6 693.9,363.0 694.7,363.4 695.6,361.9 696.4,363.5 697.3,363.6 698.1,364.3 699.0,364.1 699.9,364.3 700.7,366.2 701.6,367.9 702.4,370.7 703.3,371.2 704.2,366.0 705.0,366.4 705.9,367.0 706.8,367.8 707.6,369.7 708.5,368.4 709.3,369.8 710.2,375.8 711.0,376.5 711.9,377.3 712.8,377.9 713.6,377.2 714.5,379.9 715.4,379.8 716.2,379.6 717.1,379.8 717.9,381.0 718.8,386.2 719.6,387.5 720.5,388.1 721.4,389.1 722.2,391.5 723.1,393.1 723.9,393.4 724.8,389.0 725.7,389.7 726.5,391.6 727.4,392.4 728.2,396.1 729.1,396.3 730.0,397.4 730.8,396.4 731.7,397.7 732.5,397.7 733.4,398.9 734.3,395.9 735.1,396.1 736.0,396.0 736.9,399.4 737.7,400.4 738.6,400.9 739.4,400.6 740.3,400.8 741.1,401.2 742.0,401.6 742.9,401.8 743.7,401.5 744.6,402.1 745.4,402.5 746.3,402.8 747.2,402.6 748.0,403.2 748.9,403.2 749.8,403.2 750.6,402.9 751.5,403.2 752.3,403.1 753.2,403.1 754.0,402.7 754.9,402.5 755.8,402.9 756.6,403.1 757.5,402.5 758.4,402.1 759.2,402.3 760.1,402.3 760.9,402.1 761.8,402.5 762.6,402.4 763.5,403.3 764.4,403.7 765.2,403.7 766.1,404.1 766.9,405.2 767.8,405.3 768.7,406.5 769.5,406.7 770.4,406.9 771.2,407.1 772.1,407.5 773.0,408.1 773.8,408.3 774.7,405.3 775.5,405.7 776.4,405.9 777.3,405.9 778.1,406.2 779.0,406.4 779.8,406.7 780.7,409.9 781.6,410.0 782.4,410.1 783.3,410.3 784.1,410.2 785.0,409.7 785.9,409.8 786.7,409.3 787.6,409.2 788.4,409.0 789.3,408.8 790.2,408.5 791.0,408.1 791.9,407.1 792.8,406.5 793.6,404.0 794.5,404.1 795.3,404.4 796.2,403.6 797.0,402.0 797.9,400.8 798.8,400.2 799.6,399.4 800.5,398.9 801.3,398.7 802.2,398.1 803.1,400.0 803.9,397.0 804.8,395.7 805.6,397.1 806.5,392.6 807.4,392.6 808.2,393.0 809.1,389.6 809.9,392.4 810.8,392.5 811.7,392.5 812.5,396.8 813.4,396.8 814.2,396.7 815.1,397.5 816.0,397.1 816.8,397.5 817.7,397.3 818.5,393.1 819.4,393.2 820.3,392.4 821.1,391.4 822.0,390.7 822.8,390.7 823.7,390.0 824.6,394.3 825.4,394.3 826.3,395.0 827.1,396.4 828.0,397.4 828.9,398.0 829.7,399.0 830.6,399.0 831.4,399.3 832.3,399.4 833.2,399.4 834.0,399.9 834.9,399.6 835.8,399.8 836.6,395.8 837.5,395.7 838.3,396.1 839.2,396.2 840.0,396.8 840.9,398.2 841.8,398.9 842.6,403.8 843.5,404.1 844.3,405.6 845.2,408.0 846.1,409.3 846.9,410.4 847.8,411.6 848.6,412.0 849.5,412.4 850.4,413.1 851.2,414.3 852.1,415.2 852.9,415.8 853.8,416.4 854.7,416.5 855.5,416.6 856.4,416.8 857.2,417.0 858.1,417.6 859.0,418.0 859.8,418.2 860.7,418.5 861.5,418.5 862.4,418.7 863.3,419.0 864.1,419.0 865.0,419.1 865.8,419.3 866.7,419.3 867.6,419.4 868.4,419.3 869.3,419.8 870.1,420.2 871.0,420.4 871.9,420.6" fill="none" stroke="#e3262b" stroke-width="1.7" stroke-linejoin="round"/>
<line x1="187.31" y1="430.3" x2="187.31" y2="342.3" stroke="#e3262b" stroke-width="1"/>
<line x1="327.49" y1="430.3" x2="327.49" y2="417.9" stroke="#e3262b" stroke-width="1"/>
<line x1="444.45" y1="430.3" x2="444.45" y2="414.6" stroke="#e3262b" stroke-width="1"/>
<line x1="480.57" y1="430.3" x2="480.57" y2="367.0" stroke="#e3262b" stroke-width="1"/>
<line x1="535.61" y1="430.3" x2="535.61" y2="119.0" stroke="#e3262b" stroke-width="1"/>
<line x1="571.73" y1="430.3" x2="571.73" y2="353.1" stroke="#e3262b" stroke-width="1"/>
<line x1="603.55" y1="430.3" x2="603.55" y2="418.2" stroke="#e3262b" stroke-width="1"/>
<line x1="623.33" y1="430.3" x2="623.33" y2="393.5" stroke="#e3262b" stroke-width="1"/>
<line x1="635.37" y1="430.3" x2="635.37" y2="271.3" stroke="#e3262b" stroke-width="1"/>
<line x1="637.09" y1="430.3" x2="637.09" y2="489.7" stroke="#e3262b" stroke-width="1"/>
<line x1="637.95" y1="430.3" x2="637.95" y2="270.0" stroke="#e3262b" stroke-width="1"/>
<line x1="639.67" y1="430.3" x2="639.67" y2="489.7" stroke="#e3262b" stroke-width="1"/>
<line x1="649.99" y1="430.3" x2="649.99" y2="437.5" stroke="#e3262b" stroke-width="1"/>
<line x1="718.79" y1="430.3" x2="718.79" y2="404.7" stroke="#e3262b" stroke-width="1"/>
<line x1="728.25" y1="430.3" x2="728.25" y2="432.3" stroke="#e3262b" stroke-width="1"/>
<line x1="730.83" y1="430.3" x2="730.83" y2="366.5" stroke="#e3262b" stroke-width="1"/>
<line x1="610.7" y1="430.3" x2="610.7" y2="402" stroke="#e3262b" stroke-width="1"/>
<text transform="translate(46.8 414.7) scale(0.840 1)" font-size="9.8" fill="#3a5286" text-anchor="middle" font-family="Liberation Sans, sans-serif">171,062</text>
<text transform="translate(87.8 411.9) scale(0.840 1)" font-size="9.8" fill="#3a5286" text-anchor="middle" font-family="Liberation Sans, sans-serif">217,313</text>
<rect x="125.5" y="395.0" width="33.5" height="13.4" fill="#fff"/><text transform="translate(141.0 405.6) scale(0.840 1)" font-size="9.8" fill="#3a5286" text-anchor="middle" font-family="Liberation Sans, sans-serif">318,647</text>
<rect x="193.2" y="361.5" width="35.1" height="12.5" fill="#fff"/><text transform="translate(211.4 371.4) scale(0.840 1)" font-size="9.8" fill="#3a5286" text-anchor="middle" font-family="Liberation Sans, sans-serif">895,254</text>
<rect x="247.0" y="393.0" width="34.2" height="13.9" fill="#fff"/><text transform="translate(263.5 403.5) scale(0.840 1)" font-size="9.8" fill="#3a5286" text-anchor="middle" font-family="Liberation Sans, sans-serif">356,673</text>
<text transform="translate(306.8 367.9) scale(0.840 1)" font-size="9.8" fill="#3a5286" text-anchor="middle" font-family="Liberation Sans, sans-serif">968,134</text>
<rect x="361.3" y="400.6" width="37.7" height="14.8" fill="#fff"/><text transform="translate(381.1 411.9) scale(0.840 1)" font-size="9.8" fill="#3a5286" text-anchor="middle" font-family="Liberation Sans, sans-serif">214,354</text>
<rect x="391.7" y="363.5" width="35.0" height="12.5" fill="#fff"/><text transform="translate(408.5 373.4) scale(0.840 1)" font-size="9.8" fill="#3a5286" text-anchor="middle" font-family="Liberation Sans, sans-serif">870,966</text>
<rect x="500.0" y="298.1" width="39.1" height="11.6" fill="#fff"/><text transform="translate(519.3 307.4) scale(0.840 1)" font-size="9.8" fill="#3a5286" text-anchor="middle" font-family="Liberation Sans, sans-serif">1,978,043</text>
<rect x="533.0" y="213.7" width="38.7" height="11.7" fill="#fff"/><text transform="translate(552.6 222.8) scale(0.840 1)" font-size="9.8" fill="#3a5286" text-anchor="middle" font-family="Liberation Sans, sans-serif">3,402,772</text>
<text transform="translate(685.8 324.6) scale(0.840 1)" font-size="9.8" fill="#3a5286" text-anchor="middle" font-family="Liberation Sans, sans-serif">1,689,130</text>
<text transform="translate(805.1 363.8) scale(0.840 1)" font-size="9.8" fill="#3a5286" text-anchor="middle" font-family="Liberation Sans, sans-serif">1,024,367</text>
<text transform="translate(873.2 413.3) scale(0.840 1)" font-size="9.8" fill="#3a5286" text-anchor="middle" font-family="Liberation Sans, sans-serif">196,580</text>
<text transform="translate(188.7 336.5) scale(0.840 1)" font-size="9.8" fill="#e3262b" text-anchor="middle" font-family="Liberation Sans, sans-serif">1,483,030</text>
<rect x="308.4" y="400.6" width="38.0" height="15.1" fill="#fff"/><text transform="translate(328.9 411.9) scale(0.840 1)" font-size="9.8" fill="#e3262b" text-anchor="middle" font-family="Liberation Sans, sans-serif">209,464</text>
<rect x="425.6" y="400.2" width="37.4" height="12.1" fill="#fff"/><text transform="translate(445.8 409.2) scale(0.840 1)" font-size="9.8" fill="#e3262b" text-anchor="middle" font-family="Liberation Sans, sans-serif">264,870</text>
<text transform="translate(482.2 361.3) scale(0.840 1)" font-size="9.8" fill="#e3262b" text-anchor="middle" font-family="Liberation Sans, sans-serif">1,065,998</text>
<text transform="translate(536.5 112.9) scale(0.840 1)" font-size="9.8" fill="#e3262b" text-anchor="middle" font-family="Liberation Sans, sans-serif">5,243,825</text>
<rect x="553.0" y="337.2" width="40.3" height="13.1" fill="#fff"/><text transform="translate(573.3 347.2) scale(0.840 1)" font-size="9.8" fill="#e3262b" text-anchor="middle" font-family="Liberation Sans, sans-serif">1,300,338</text>
<text transform="translate(601.5 265.7) scale(0.840 1)" font-size="9.8" fill="#e3262b" text-anchor="middle" font-family="Liberation Sans, sans-serif">2,677,721</text>
<text transform="translate(628.4 236.9) scale(0.840 1)" font-size="9.8" fill="#e3262b" text-anchor="middle" font-family="Liberation Sans, sans-serif">2,699,597</text>
<rect x="604.7" y="377.7" width="36.8" height="13.5" fill="#fff"/><text transform="translate(624.2 387.9) scale(0.840 1)" font-size="9.8" fill="#e3262b" text-anchor="middle" font-family="Liberation Sans, sans-serif">619,784</text>
<rect x="584.5" y="401.7" width="38.2" height="13.5" fill="#fff"/><text transform="translate(604.7 411.9) scale(0.840 1)" font-size="9.8" fill="#e3262b" text-anchor="middle" font-family="Liberation Sans, sans-serif">204,068</text>
<text transform="translate(731.9 361.3) scale(0.840 1)" font-size="9.8" fill="#e3262b" text-anchor="middle" font-family="Liberation Sans, sans-serif">1,074,944</text>
<rect x="698.9" y="390.5" width="36.2" height="10.0" fill="#fff"/><text transform="translate(717.0 399.0) scale(0.840 1)" font-size="9.8" fill="#e3262b" text-anchor="middle" font-family="Liberation Sans, sans-serif">431,953</text>
<text transform="translate(647.7 474.6) scale(0.840 1)" font-size="9.8" fill="#e3262b" text-anchor="middle" font-family="Liberation Sans, sans-serif">(120,547)</text>
<text transform="translate(728.9 475.0) scale(0.840 1)" font-size="9.8" fill="#e3262b" text-anchor="middle" font-family="Liberation Sans, sans-serif">(34,301)</text>
<polyline points="628,240.5 637.3,268.5" fill="none" stroke="#8f959c" stroke-width="0.7"/>
<polyline points="622.5,261.5 628,263 634.9,269.5" fill="none" stroke="#8f959c" stroke-width="0.7"/>
<polyline points="649.2,439.7 646.7,463.9" fill="none" stroke="#8f959c" stroke-width="0.7"/>
<polyline points="728.5,431.3 727.6,465.5" fill="none" stroke="#8f959c" stroke-width="0.7"/>
<rect x="134.4" y="344.0" width="52.8" height="17.4" fill="#fff" stroke="#e3262b" stroke-width="0.7"/>
<text x="140.3" y="357.55" font-size="13.2" font-weight="bold" letter-spacing="0.7" fill="#e8161b" font-family="Liberation Sans, Noto Sans CJK SC, sans-serif">第一波</text>
<rect x="286.0" y="335.6" width="48.7" height="15.4" fill="#fff" stroke="#e3262b" stroke-width="0.7"/>
<text x="289.85" y="348.15" font-size="13.2" font-weight="bold" letter-spacing="0.7" fill="#e8161b" font-family="Liberation Sans, Noto Sans CJK SC, sans-serif">第二波</text>
<rect x="391.7" y="334.0" width="55.1" height="14.0" fill="#fff" stroke="#e3262b" stroke-width="0.7"/>
<text x="398.75" y="345.85" font-size="13.2" font-weight="bold" letter-spacing="0.7" fill="#e8161b" font-family="Liberation Sans, Noto Sans CJK SC, sans-serif">第三波</text>
<rect x="553.3" y="135.2" width="54.4" height="14.0" fill="#fff" stroke="#e3262b" stroke-width="0.7"/>
<text x="560" y="147.05" font-size="13.2" font-weight="bold" letter-spacing="0.7" fill="#e8161b" font-family="Liberation Sans, Noto Sans CJK SC, sans-serif">第四波</text>
<rect x="676.5" y="290.2" width="54.1" height="13.4" fill="#fff" stroke="#e3262b" stroke-width="0.7"/>
<text x="683.05" y="301.75" font-size="13.2" font-weight="bold" letter-spacing="0.7" fill="#e8161b" font-family="Liberation Sans, Noto Sans CJK SC, sans-serif">第五波</text>
<text x="33.2" y="493.27" font-size="9.6" font-weight="bold" fill="#2d4783" text-anchor="end" font-family="Liberation Sans, Noto Sans CJK SC, sans-serif">-1百万</text>
<text x="33.2" y="433.9" font-size="9.6" font-weight="bold" fill="#2d4783" text-anchor="end" font-family="Liberation Sans, Noto Sans CJK SC, sans-serif">0百万</text>
<text x="33.2" y="374.53" font-size="9.6" font-weight="bold" fill="#2d4783" text-anchor="end" font-family="Liberation Sans, Noto Sans CJK SC, sans-serif">1百万</text>
<text x="33.2" y="315.16" font-size="9.6" font-weight="bold" fill="#2d4783" text-anchor="end" font-family="Liberation Sans, Noto Sans CJK SC, sans-serif">2百万</text>
<text x="33.2" y="255.79" font-size="9.6" font-weight="bold" fill="#2d4783" text-anchor="end" font-family="Liberation Sans, Noto Sans CJK SC, sans-serif">3百万</text>
<text x="33.2" y="196.42" font-size="9.6" font-weight="bold" fill="#2d4783" text-anchor="end" font-family="Liberation Sans, Noto Sans CJK SC, sans-serif">4百万</text>
<text x="33.2" y="137.05" font-size="9.6" font-weight="bold" fill="#2d4783" text-anchor="end" font-family="Liberation Sans, Noto Sans CJK SC, sans-serif">5百万</text>
<text x="33.2" y="77.68" font-size="9.6" font-weight="bold" fill="#2d4783" text-anchor="end" font-family="Liberation Sans, Noto Sans CJK SC, sans-serif">6百万</text>
<text transform="translate(45.0 442.4) rotate(-45) scale(0.87 1)" font-size="9.6" font-weight="bold" fill="#2d4783" text-anchor="end" font-family="Liberation Sans, sans-serif">20/6/28</text>
<text transform="translate(70.8 442.4) rotate(-45) scale(0.87 1)" font-size="9.6" font-weight="bold" fill="#2d4783" text-anchor="end" font-family="Liberation Sans, sans-serif">20/7/28</text>
<text transform="translate(97.5 442.4) rotate(-45) scale(0.87 1)" font-size="9.6" font-weight="bold" fill="#2d4783" text-anchor="end" font-family="Liberation Sans, sans-serif">20/8/28</text>
<text transform="translate(124.1 442.4) rotate(-45) scale(0.87 1)" font-size="9.6" font-weight="bold" fill="#2d4783" text-anchor="end" font-family="Liberation Sans, sans-serif">20/9/28</text>
<text transform="translate(149.9 442.4) rotate(-45) scale(0.87 1)" font-size="9.6" font-weight="bold" fill="#2d4783" text-anchor="end" font-family="Liberation Sans, sans-serif">20/10/28</text>
<text transform="translate(176.6 442.4) rotate(-45) scale(0.87 1)" font-size="9.6" font-weight="bold" fill="#2d4783" text-anchor="end" font-family="Liberation Sans, sans-serif">20/11/28</text>
<text transform="translate(202.4 442.4) rotate(-45) scale(0.87 1)" font-size="9.6" font-weight="bold" fill="#2d4783" text-anchor="end" font-family="Liberation Sans, sans-serif">20/12/28</text>
<text transform="translate(229.1 442.4) rotate(-45) scale(0.87 1)" font-size="9.6" font-weight="bold" fill="#2d4783" text-anchor="end" font-family="Liberation Sans, sans-serif">21/1/28</text>
<text transform="translate(255.7 442.4) rotate(-45) scale(0.87 1)" font-size="9.6" font-weight="bold" fill="#2d4783" text-anchor="end" font-family="Liberation Sans, sans-serif">21/2/28</text>
<text transform="translate(282.4 442.4) rotate(-45) scale(0.87 1)" font-size="9.6" font-weight="bold" fill="#2d4783" text-anchor="end" font-family="Liberation Sans, sans-serif">21/3/31</text>
<text transform="translate(308.2 442.4) rotate(-45) scale(0.87 1)" font-size="9.6" font-weight="bold" fill="#2d4783" text-anchor="end" font-family="Liberation Sans, sans-serif">21/4/30</text>
<text transform="translate(334.8 442.4) rotate(-45) scale(0.87 1)" font-size="9.6" font-weight="bold" fill="#2d4783" text-anchor="end" font-family="Liberation Sans, sans-serif">21/5/31</text>
<text transform="translate(360.6 442.4) rotate(-45) scale(0.87 1)" font-size="9.6" font-weight="bold" fill="#2d4783" text-anchor="end" font-family="Liberation Sans, sans-serif">21/6/30</text>
<text transform="translate(387.3 442.4) rotate(-45) scale(0.87 1)" font-size="9.6" font-weight="bold" fill="#2d4783" text-anchor="end" font-family="Liberation Sans, sans-serif">21/7/31</text>
<text transform="translate(414.0 442.4) rotate(-45) scale(0.87 1)" font-size="9.6" font-weight="bold" fill="#2d4783" text-anchor="end" font-family="Liberation Sans, sans-serif">21/8/31</text>
<text transform="translate(439.8 442.4) rotate(-45) scale(0.87 1)" font-size="9.6" font-weight="bold" fill="#2d4783" text-anchor="end" font-family="Liberation Sans, sans-serif">21/9/30</text>
<text transform="translate(466.4 442.4) rotate(-45) scale(0.87 1)" font-size="9.6" font-weight="bold" fill="#2d4783" text-anchor="end" font-family="Liberation Sans, sans-serif">21/10/31</text>
<text transform="translate(492.2 442.4) rotate(-45) scale(0.87 1)" font-size="9.6" font-weight="bold" fill="#2d4783" text-anchor="end" font-family="Liberation Sans, sans-serif">21/11/30</text>
<text transform="translate(518.9 442.4) rotate(-45) scale(0.87 1)" font-size="9.6" font-weight="bold" fill="#2d4783" text-anchor="end" font-family="Liberation Sans, sans-serif">21/12/31</text>
<text transform="translate(545.6 442.4) rotate(-45) scale(0.87 1)" font-size="9.6" font-weight="bold" fill="#2d4783" text-anchor="end" font-family="Liberation Sans, sans-serif">22/1/31</text>
<text transform="translate(569.6 442.4) rotate(-45) scale(0.87 1)" font-size="9.6" font-weight="bold" fill="#2d4783" text-anchor="end" font-family="Liberation Sans, sans-serif">22/2/28</text>
<text transform="translate(596.3 442.4) rotate(-45) scale(0.87 1)" font-size="9.6" font-weight="bold" fill="#2d4783" text-anchor="end" font-family="Liberation Sans, sans-serif">22/3/31</text>
<text transform="translate(622.1 442.4) rotate(-45) scale(0.87 1)" font-size="9.6" font-weight="bold" fill="#2d4783" text-anchor="end" font-family="Liberation Sans, sans-serif">22/4/30</text>
<text transform="translate(648.8 442.4) rotate(-45) scale(0.87 1)" font-size="9.6" font-weight="bold" fill="#2d4783" text-anchor="end" font-family="Liberation Sans, sans-serif">22/5/31</text>
<text transform="translate(674.6 442.4) rotate(-45) scale(0.87 1)" font-size="9.6" font-weight="bold" fill="#2d4783" text-anchor="end" font-family="Liberation Sans, sans-serif">22/6/30</text>
<text transform="translate(701.2 442.4) rotate(-45) scale(0.87 1)" font-size="9.6" font-weight="bold" fill="#2d4783" text-anchor="end" font-family="Liberation Sans, sans-serif">22/7/31</text>
<text transform="translate(727.9 442.4) rotate(-45) scale(0.87 1)" font-size="9.6" font-weight="bold" fill="#2d4783" text-anchor="end" font-family="Liberation Sans, sans-serif">22/8/31</text>
<text transform="translate(753.7 442.4) rotate(-45) scale(0.87 1)" font-size="9.6" font-weight="bold" fill="#2d4783" text-anchor="end" font-family="Liberation Sans, sans-serif">22/9/30</text>
<text transform="translate(780.3 442.4) rotate(-45) scale(0.87 1)" font-size="9.6" font-weight="bold" fill="#2d4783" text-anchor="end" font-family="Liberation Sans, sans-serif">22/10/31</text>
<text transform="translate(806.1 442.4) rotate(-45) scale(0.87 1)" font-size="9.6" font-weight="bold" fill="#2d4783" text-anchor="end" font-family="Liberation Sans, sans-serif">22/11/30</text>
<text transform="translate(832.8 442.4) rotate(-45) scale(0.87 1)" font-size="9.6" font-weight="bold" fill="#2d4783" text-anchor="end" font-family="Liberation Sans, sans-serif">22/12/31</text>
<text transform="translate(859.5 442.4) rotate(-45) scale(0.87 1)" font-size="9.6" font-weight="bold" fill="#2d4783" text-anchor="end" font-family="Liberation Sans, sans-serif">23/1/31</text>
<text x="289" y="48.5" font-size="23" font-weight="bold" letter-spacing="0.5" fill="#2b4c90" font-family="Liberation Sans, Noto Sans CJK SC, sans-serif">全球单日新增新冠确诊病例数历史</text>
<rect x="337" y="66" width="249" height="16" fill="#fff"/>
<text x="348.6" y="78" font-size="11.5" fill="#4a6190" font-family="Liberation Sans, Noto Sans CJK SC, sans-serif">数据来源</text>
<text x="395.2" y="77.6" font-size="10.5" fill="#4a6190" font-family="Liberation Sans, sans-serif">:</text>
<text x="407.5" y="78" font-size="11.5" fill="#4a6190" font-family="Liberation Sans, Noto Sans CJK SC, sans-serif">美国约翰斯</text>
<circle cx="467.4" cy="73.6" r="0.8" fill="#4a6190"/>
<text x="469.6" y="78" font-size="11.5" fill="#4a6190" font-family="Liberation Sans, Noto Sans CJK SC, sans-serif">霍普金斯大学</text>
<text transform="translate(545.4 77.8) scale(0.86 1)" font-size="11.4" fill="#4a6190" font-family="Liberation Sans, sans-serif">(JHU)</text>
<rect x="612" y="66" width="257" height="16" fill="#fff"/>
<rect x="631.6" y="72" width="16.6" height="4.8" fill="#2d4f9a"/>
<text x="650" y="78.6" font-size="11.7" fill="#2d4f9a" font-family="Liberation Sans, Noto Sans CJK SC, sans-serif">全球单日新增确诊</text>
<line x1="766.5" y1="74.3" x2="783" y2="74.3" stroke="#e3262b" stroke-width="1.6"/>
<text x="784.5" y="78.6" font-size="11.6" fill="#e3262b" font-family="Liberation Sans, Noto Sans CJK SC, sans-serif">7天移动平均</text>
<rect x="193" y="0" width="86" height="84" fill="#fff"/><g clip-path="url(#gc)"><ellipse cx="236.4" cy="43.4" rx="38.6" ry="36.8" fill="url(#gl)"/><g filter="url(#bl)"><path d="M216.7 16.0 L221.7 10.4 L230.1 9.2 L238.0 11.8 L243.1 16.8 L244.4 23.5 L241.4 26.9 L238.0 29.4 L239.4 34.5 L236.9 37.8 L234.3 36.1 L231.8 39.5 L234.3 43.4 L232.3 45.0 L228.5 41.2 L225.9 36.1 L222.6 33.6 L219.2 28.6 L216.7 22.7Z" fill="#b3c58c"/><path d="M234.0 45.0 L238.0 42.9 L244.4 43.4 L251.1 46.2 L256.5 50.4 L255.8 55.5 L252.0 60.5 L249.5 66.4 L245.3 72.3 L241.9 76.5 L239.0 73.9 L239.0 67.2 L236.9 61.3 L234.0 55.5 L232.7 49.6Z" fill="#47782a"/><path d="M238.0 62.2 L244.4 62.5 L249.5 66.4 L245.3 72.3 L241.9 76.5 L239.0 73.9 L238.7 67.2Z" fill="#b7b58a" opacity="0.85"/></g><rect x="195.8" y="2.8" width="81.2" height="81.2" filter="url(#cl)"/><g filter="url(#bl2)" fill="#fff"><ellipse cx="205.8" cy="42.0" rx="6.7" ry="1.7" opacity="0.75" transform="rotate(-20 205.8 42.0)"/><ellipse cx="212.5" cy="55.5" rx="7.6" ry="1.5" opacity="0.60" transform="rotate(10 212.5 55.5)"/><ellipse cx="224.3" cy="50.4" rx="6.7" ry="1.3" opacity="0.55" transform="rotate(-5 224.3 50.4)"/><ellipse cx="249.5" cy="36.1" rx="7.6" ry="1.7" opacity="0.50" transform="rotate(25 249.5 36.1)"/><ellipse cx="259.5" cy="25.2" rx="5.0" ry="1.3" opacity="0.45" transform="rotate(40 259.5 25.2)"/><ellipse cx="219.2" cy="68.9" rx="8.4" ry="1.5" opacity="0.50" transform="rotate(15 219.2 68.9)"/><ellipse cx="261.2" cy="55.5" rx="5.0" ry="1.3" opacity="0.40" transform="rotate(-30 261.2 55.5)"/><ellipse cx="229.3" cy="12.6" rx="10.1" ry="2.7" opacity="0.55" transform="rotate(0 229.3 12.6)"/><ellipse cx="214.2" cy="20.2" rx="5.0" ry="2.0" opacity="0.60" transform="rotate(-40 214.2 20.2)"/><ellipse cx="247.8" cy="18.5" rx="5.0" ry="1.3" opacity="0.35" transform="rotate(10 247.8 18.5)"/><ellipse cx="234.3" cy="36.1" rx="5.9" ry="1.3" opacity="0.55" transform="rotate(15 234.3 36.1)"/></g><ellipse cx="236.4" cy="43.4" rx="38.6" ry="36.8" fill="url(#gs)"/><ellipse cx="236.4" cy="43.4" rx="38.6" ry="36.8" fill="url(#gd)"/></g>
<rect x="52.5" y="116.5" width="187.3" height="179.1" fill="#deeaf6" stroke="#96a2b3" stroke-width="1"/>
<line x1="52.5" y1="130.0" x2="239.8" y2="130.0" stroke="#96a2b3" stroke-width="1"/>
<line x1="98.5" y1="116.5" x2="98.5" y2="295.6" stroke="#96a2b3" stroke-width="1"/>
<line x1="194.3" y1="116.5" x2="194.3" y2="295.6" stroke="#96a2b3" stroke-width="1"/>
<text x="65.9" y="127.1" font-size="9.6" font-weight="bold" fill="#3c5583" font-family="Liberation Sans, Noto Sans CJK SC, sans-serif">日期</text>
<text x="124.5" y="127.1" font-size="9.6" font-weight="bold" fill="#3c5583" text-anchor="middle" font-family="Liberation Sans, Noto Sans CJK SC, sans-serif">国家/地区</text>
<text x="152.3" y="127.1" font-size="9.6" font-weight="bold" fill="#3c5583" font-family="Liberation Sans, Noto Sans CJK SC, sans-serif">异常日增</text>
<text x="197.85" y="127.1" font-size="9.6" font-weight="bold" fill="#3c5583" font-family="Liberation Sans, Noto Sans CJK SC, sans-serif">全球日增</text>
<text x="75.5" y="140.2" font-size="8.3" fill="#3c5583" text-anchor="middle" font-family="Liberation Sans, sans-serif">2020.12.13</text>
<text x="110.7" y="140.2" font-size="9.2" fill="#3c5583" font-family="Liberation Sans, Noto Sans CJK SC, sans-serif">土耳其</text>
<text x="189.6" y="140.2" font-size="8.3" fill="#3c5583" text-anchor="end" font-family="Liberation Sans, sans-serif">854,043</text>
<text x="234.6" y="140.2" font-size="8.3" fill="#3c5583" text-anchor="end" font-family="Liberation Sans, sans-serif">1,483,030</text>
<text x="75.5" y="154.0" font-size="8.3" fill="#3c5583" text-anchor="middle" font-family="Liberation Sans, sans-serif">2021.5.25</text>
<text x="115.3" y="154" font-size="9.2" fill="#3c5583" font-family="Liberation Sans, Noto Sans CJK SC, sans-serif">法国</text>
<text x="192.4" y="154.0" font-size="8.3" fill="#e3262b" text-anchor="end" font-family="Liberation Sans, sans-serif">(312,995)</text>
<text x="234.6" y="154.0" font-size="8.3" fill="#3c5583" text-anchor="end" font-family="Liberation Sans, sans-serif">209,464</text>
<text x="75.5" y="167.8" font-size="8.3" fill="#3c5583" text-anchor="middle" font-family="Liberation Sans, sans-serif">2021.10.8</text>
<text x="115.3" y="167.8" font-size="9.2" fill="#3c5583" font-family="Liberation Sans, Noto Sans CJK SC, sans-serif">法国</text>
<text x="192.4" y="167.8" font-size="8.3" fill="#e3262b" text-anchor="end" font-family="Liberation Sans, sans-serif">(162,465)</text>
<text x="234.6" y="167.8" font-size="8.3" fill="#3c5583" text-anchor="end" font-family="Liberation Sans, sans-serif">264,870</text>
<text x="75.5" y="181.6" font-size="8.3" fill="#3c5583" text-anchor="middle" font-family="Liberation Sans, sans-serif">2021.11.19</text>
<text x="106.1" y="181.6" font-size="9.2" fill="#3c5583" font-family="Liberation Sans, Noto Sans CJK SC, sans-serif">斯洛伐克</text>
<text x="189.6" y="181.6" font-size="8.3" fill="#3c5583" text-anchor="end" font-family="Liberation Sans, sans-serif">462,788</text>
<text x="234.6" y="181.6" font-size="8.3" fill="#3c5583" text-anchor="end" font-family="Liberation Sans, sans-serif">1,065,998</text>
<text x="75.5" y="195.4" font-size="8.3" fill="#3c5583" text-anchor="middle" font-family="Liberation Sans, sans-serif">2022.1.22</text>
<text x="115.3" y="195.4" font-size="9.2" fill="#3c5583" font-family="Liberation Sans, Noto Sans CJK SC, sans-serif">法国</text>
<text x="189.6" y="195.4" font-size="8.3" fill="#3c5583" text-anchor="end" font-family="Liberation Sans, sans-serif">1,831,442</text>
<text x="234.6" y="195.4" font-size="8.3" fill="#3c5583" text-anchor="end" font-family="Liberation Sans, sans-serif">5,243,825</text>
<text x="75.5" y="209.2" font-size="8.3" fill="#3c5583" text-anchor="middle" font-family="Liberation Sans, sans-serif">2022.3.5</text>
<text x="115.3" y="209.2" font-size="9.2" fill="#3c5583" font-family="Liberation Sans, Noto Sans CJK SC, sans-serif">法国</text>
<text x="192.4" y="209.2" font-size="8.3" fill="#e3262b" text-anchor="end" font-family="Liberation Sans, sans-serif">(403,041)</text>
<text x="234.6" y="209.2" font-size="8.3" fill="#3c5583" text-anchor="end" font-family="Liberation Sans, sans-serif">1,300,338</text>
<text x="75.5" y="223.0" font-size="8.3" fill="#3c5583" text-anchor="middle" font-family="Liberation Sans, sans-serif">2022.4.11</text>
<text x="146" y="223" font-size="9.2" font-weight="500" fill="#3c5583" text-anchor="middle" font-family="Liberation Sans, Noto Sans CJK SC, sans-serif">JHU官网数据异常</text>
<text x="234.6" y="223.0" font-size="8.3" fill="#3c5583" text-anchor="end" font-family="Liberation Sans, sans-serif">204,068</text>
<text x="115.3" y="236.8" font-size="9.2" fill="#3c5583" font-family="Liberation Sans, Noto Sans CJK SC, sans-serif">贝宁</text>
<text x="192.4" y="236.8" font-size="8.3" fill="#e3262b" text-anchor="end" font-family="Liberation Sans, sans-serif">(59,422)</text>
<text x="106.1" y="250.6" font-size="9.2" fill="#3c5583" font-family="Liberation Sans, Noto Sans CJK SC, sans-serif">洪都拉斯</text>
<text x="192.4" y="250.6" font-size="8.3" fill="#e3262b" text-anchor="end" font-family="Liberation Sans, sans-serif">(3,000)</text>
<text x="75.5" y="264.4" font-size="8.3" fill="#3c5583" text-anchor="middle" font-family="Liberation Sans, sans-serif">2022.5.18</text>
<text x="115.3" y="264.4" font-size="9.2" fill="#3c5583" font-family="Liberation Sans, Noto Sans CJK SC, sans-serif">英国</text>
<text x="189.6" y="264.4" font-size="8.3" fill="#3c5583" text-anchor="end" font-family="Liberation Sans, sans-serif">1,944,561</text>
<text x="234.6" y="264.4" font-size="8.3" fill="#3c5583" text-anchor="end" font-family="Liberation Sans, sans-serif">2,677,721</text>
<text x="75.5" y="278.2" font-size="8.3" fill="#3c5583" text-anchor="middle" font-family="Liberation Sans, sans-serif">2022.5.20</text>
<text x="115.3" y="278.2" font-size="9.2" fill="#3c5583" font-family="Liberation Sans, Noto Sans CJK SC, sans-serif">英国</text>
<text x="192.4" y="278.2" font-size="8.3" fill="#e3262b" text-anchor="end" font-family="Liberation Sans, sans-serif">(1,915,131)</text>
<text x="237.4" y="278.2" font-size="8.3" fill="#e3262b" text-anchor="end" font-family="Liberation Sans, sans-serif">(1,957,220)</text>
<text x="115.3" y="292" font-size="9.2" fill="#3c5583" font-family="Liberation Sans, Noto Sans CJK SC, sans-serif">美国</text>
<text x="192.4" y="292.0" font-size="8.3" fill="#e3262b" text-anchor="end" font-family="Liberation Sans, sans-serif">(534,158)</text>
<text x="75.5" y="243.7" font-size="8.3" fill="#3c5583" text-anchor="middle" font-family="Liberation Sans, sans-serif">2022.5.4</text>
<text x="217.5" y="243.7" font-size="8.3" fill="#3c5583" text-anchor="middle" font-family="Liberation Sans, sans-serif">619,783</text>
<rect x="245.0" y="116.5" width="190.5" height="137.7" fill="#deeaf6" stroke="#96a2b3" stroke-width="1"/>
<line x1="245.0" y1="130.0" x2="435.5" y2="130.0" stroke="#96a2b3" stroke-width="1"/>
<line x1="291.5" y1="116.5" x2="291.5" y2="254.2" stroke="#96a2b3" stroke-width="1"/>
<line x1="389.5" y1="116.5" x2="389.5" y2="254.2" stroke="#96a2b3" stroke-width="1"/>
<text x="258.65" y="127.1" font-size="9.6" font-weight="bold" fill="#3c5583" font-family="Liberation Sans, Noto Sans CJK SC, sans-serif">日期</text>
<text x="317.5" y="127.1" font-size="9.6" font-weight="bold" fill="#3c5583" text-anchor="middle" font-family="Liberation Sans, Noto Sans CJK SC, sans-serif">国家/地区</text>
<text x="345.3" y="127.1" font-size="9.6" font-weight="bold" fill="#3c5583" font-family="Liberation Sans, Noto Sans CJK SC, sans-serif">异常日增</text>
<text x="393.3" y="127.1" font-size="9.6" font-weight="bold" fill="#3c5583" font-family="Liberation Sans, Noto Sans CJK SC, sans-serif">全球日增</text>
<text x="268.2" y="140.2" font-size="8.3" fill="#3c5583" text-anchor="middle" font-family="Liberation Sans, sans-serif">2022.5.21</text>
<text x="308.3" y="140.2" font-size="9.2" fill="#3c5583" font-family="Liberation Sans, Noto Sans CJK SC, sans-serif">英国</text>
<text x="385.2" y="140.2" font-size="8.3" fill="#3c5583" text-anchor="end" font-family="Liberation Sans, sans-serif">1,950,965</text>
<text x="431.9" y="140.2" font-size="8.3" fill="#3c5583" text-anchor="end" font-family="Liberation Sans, sans-serif">2,699,597</text>
<text x="268.2" y="154.0" font-size="8.3" fill="#3c5583" text-anchor="middle" font-family="Liberation Sans, sans-serif">2022.5.23</text>
<text x="308.3" y="154" font-size="9.2" fill="#3c5583" font-family="Liberation Sans, Noto Sans CJK SC, sans-serif">英国</text>
<text x="388.0" y="154.0" font-size="8.3" fill="#e3262b" text-anchor="end" font-family="Liberation Sans, sans-serif">(1,943,263)</text>
<text x="434.7" y="154.0" font-size="8.3" fill="#e3262b" text-anchor="end" font-family="Liberation Sans, sans-serif">(1,584,033)</text>
<text x="268.2" y="167.8" font-size="8.3" fill="#3c5583" text-anchor="middle" font-family="Liberation Sans, sans-serif">2022.6.4</text>
<text x="308.3" y="167.8" font-size="9.2" fill="#3c5583" font-family="Liberation Sans, Noto Sans CJK SC, sans-serif">法国</text>
<text x="388.0" y="167.8" font-size="8.3" fill="#e3262b" text-anchor="end" font-family="Liberation Sans, sans-serif">(679,589)</text>
<text x="434.7" y="167.8" font-size="8.3" fill="#e3262b" text-anchor="end" font-family="Liberation Sans, sans-serif">(120,547)</text>
<text x="268.2" y="181.6" font-size="8.3" fill="#3c5583" text-anchor="middle" font-family="Liberation Sans, sans-serif">2022.8.8</text>
<text x="308.3" y="181.6" font-size="9.2" fill="#3c5583" font-family="Liberation Sans, Noto Sans CJK SC, sans-serif">美国</text>
<text x="388.0" y="181.6" font-size="8.3" fill="#e3262b" text-anchor="end" font-family="Liberation Sans, sans-serif">(84,458)</text>
<text x="431.9" y="181.6" font-size="8.3" fill="#3c5583" text-anchor="end" font-family="Liberation Sans, sans-serif">661,808</text>
<text x="268.2" y="195.4" font-size="8.3" fill="#3c5583" text-anchor="middle" font-family="Liberation Sans, sans-serif">2022.8.23</text>
<text x="308.3" y="195.4" font-size="9.2" fill="#3c5583" font-family="Liberation Sans, Noto Sans CJK SC, sans-serif">美国</text>
<text x="388.0" y="195.4" font-size="8.3" fill="#e3262b" text-anchor="end" font-family="Liberation Sans, sans-serif">(25,799)</text>
<text x="431.9" y="195.4" font-size="8.3" fill="#3c5583" text-anchor="end" font-family="Liberation Sans, sans-serif">431,953</text>
<text x="268.2" y="209.2" font-size="8.3" fill="#3c5583" text-anchor="middle" font-family="Liberation Sans, sans-serif">2022.9.3</text>
<text x="308.3" y="209.2" font-size="9.2" fill="#3c5583" font-family="Liberation Sans, Noto Sans CJK SC, sans-serif">荷兰</text>
<text x="388.0" y="209.2" font-size="8.3" fill="#e3262b" text-anchor="end" font-family="Liberation Sans, sans-serif">(732,924)</text>
<text x="434.7" y="209.2" font-size="8.3" fill="#e3262b" text-anchor="end" font-family="Liberation Sans, sans-serif">(34,301)</text>
<text x="268.2" y="223.0" font-size="8.3" fill="#3c5583" text-anchor="middle" font-family="Liberation Sans, sans-serif">2022.9.6</text>
<text x="308.3" y="223" font-size="9.2" fill="#3c5583" font-family="Liberation Sans, Noto Sans CJK SC, sans-serif">荷兰</text>
<text x="385.2" y="223.0" font-size="8.3" fill="#3c5583" text-anchor="end" font-family="Liberation Sans, sans-serif">735,303</text>
<text x="431.9" y="223.0" font-size="8.3" fill="#3c5583" text-anchor="end" font-family="Liberation Sans, sans-serif">1,074,944</text>
<text x="268.2" y="236.8" font-size="8.3" fill="#3c5583" text-anchor="middle" font-family="Liberation Sans, sans-serif">2022.10.20</text>
<text x="308.3" y="236.8" font-size="9.2" fill="#3c5583" font-family="Liberation Sans, Noto Sans CJK SC, sans-serif">泰国</text>
<text x="388.0" y="236.8" font-size="8.3" fill="#e3262b" text-anchor="end" font-family="Liberation Sans, sans-serif">(26,628)</text>
<text x="431.9" y="236.8" font-size="8.3" fill="#3c5583" text-anchor="end" font-family="Liberation Sans, sans-serif">489,683</text>
<text x="268.2" y="250.6" font-size="8.3" fill="#3c5583" text-anchor="middle" font-family="Liberation Sans, sans-serif">2022.11.29</text>
<text x="308.3" y="250.6" font-size="9.2" fill="#3c5583" font-family="Liberation Sans, Noto Sans CJK SC, sans-serif">英国</text>
<text x="388.0" y="250.6" font-size="8.3" fill="#e3262b" text-anchor="end" font-family="Liberation Sans, sans-serif">(366,383)</text>
<text x="431.9" y="250.6" font-size="8.3" fill="#3c5583" text-anchor="end" font-family="Liberation Sans, sans-serif">72,782</text>
<text transform="translate(390.5 196.5) rotate(-14.5)" font-size="22.3" fill="#8a8f98" opacity="0.28" font-family="Liberation Sans, sans-serif">xuexiaoshijie</text>
<text transform="translate(486.0 308.5) rotate(-13.5)" font-size="22.3" fill="#8a8f98" opacity="0.28" font-family="Liberation Sans, sans-serif">xuexiaoshijie</text>
<text transform="translate(170.0 200.0) rotate(-15.0)" font-size="21.0" fill="#8a8f98" opacity="0.14" font-family="Liberation Sans, sans-serif">xuexiaoshijie</text>
<text transform="translate(241.0 251.0) rotate(-15.0)" font-size="20.0" fill="#8a8f98" opacity="0.11" font-family="Liberation Sans, sans-serif">xuexiaoshijie</text>
<g filter="url(#ws)" stroke="#4a4a4a" stroke-width="0.55" paint-order="stroke"><text y="487.3" font-size="17.5" fill="#fff" stroke-width="0.385" font-family="Liberation Sans, Noto Sans CJK SC, sans-serif"><tspan x="702.8">搜狐号</tspan><tspan x="755.3" font-size="16.3">@</tspan><tspan x="771.85" font-size="17.5">雪鸮</tspan></text><text x="807" y="487.3" font-size="18" fill="#fff" font-family="Liberation Sans, sans-serif">XueXiao</text></g>
</svg></body></html>
